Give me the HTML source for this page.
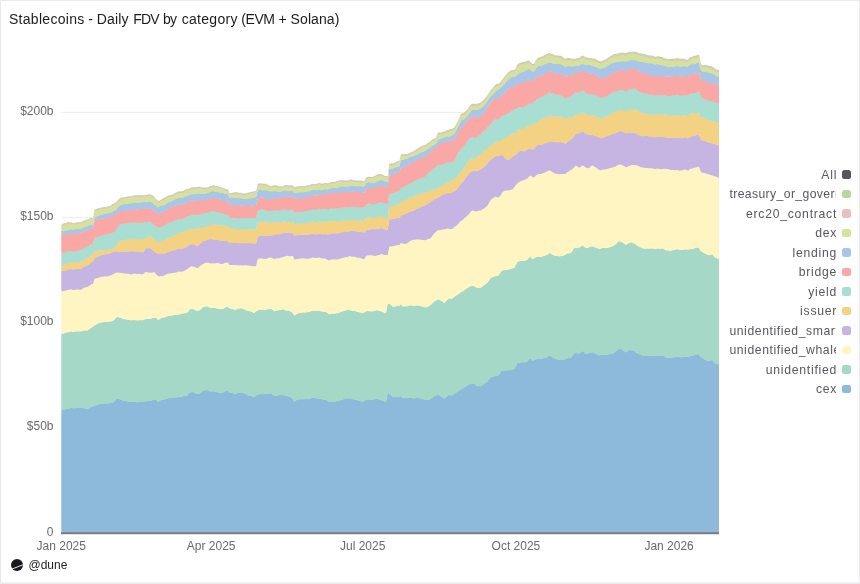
<!DOCTYPE html>
<html><head><meta charset="utf-8"><title>Stablecoins - Daily FDV by category (EVM + Solana)</title>
<style>
html,body{margin:0;padding:0;background:#fff;}
body{width:860px;height:584px;overflow:hidden;position:relative;font-family:"Liberation Sans",sans-serif;}
.frame{position:absolute;left:0;top:0;width:860px;height:584px;background:#fff;}
.title{position:absolute;left:9px;top:11px;width:340px;height:16px;font-size:14px;line-height:16px;color:#1c1c1f;white-space:nowrap;}
.title span{position:absolute;top:0;}
svg{position:absolute;left:0;top:0;}
svg text{font-family:"Liberation Sans",sans-serif;font-size:12px;fill:#6a6a6e;}
.legend{position:absolute;left:722px;top:164.8px;width:128.9px;}
.li{height:19.5px;display:flex;align-items:center;justify-content:flex-end;}
.lt{display:block;max-width:107px;overflow:hidden;white-space:nowrap;font-size:12.2px;letter-spacing:0.75px;color:#58585e;text-align:left;position:relative;top:0.4px;}
.lt.s{margin-right:-0.7px;}
.li i{display:block;width:8.7px;height:8.7px;border-radius:2.5px;margin-left:5.8px;flex:none;}
.foot{position:absolute;left:28.5px;top:558px;font-size:12px;line-height:14px;color:#1e1e22;}
</style></head><body>
<div class="frame"></div>
<div class="title"><span style="left:-0.10px;letter-spacing:0.301px">Stablecoins</span> <span style="left:79.20px;letter-spacing:0.000px">-</span> <span style="left:87.80px;letter-spacing:0.144px">Daily</span> <span style="left:124.30px;letter-spacing:-0.900px">FDV</span> <span style="left:153.90px;letter-spacing:-0.597px">by</span> <span style="left:172.70px;letter-spacing:0.300px">category</span> <span style="left:232.20px;letter-spacing:-0.400px">(EVM</span> <span style="left:269.40px;letter-spacing:0.000px">+</span> <span style="left:281.60px;letter-spacing:0.089px">Solana)</span> </div>
<svg width="860" height="584" viewBox="0 0 860 584">
<line x1="61" x2="719" y1="112.3" y2="112.3" stroke="#ececec" stroke-width="1"/><line x1="61" x2="719" y1="217.4" y2="217.4" stroke="#ececec" stroke-width="1"/><line x1="61" x2="719" y1="322.5" y2="322.5" stroke="#ececec" stroke-width="1"/><line x1="61" x2="719" y1="427.6" y2="427.6" stroke="#ececec" stroke-width="1"/>
<path d="M61.3,410.2 63.0,409.7 64.6,409.3 66.3,408.7 68.0,408.5 69.6,408.1 71.3,407.7 73.0,408.0 74.6,408.0 76.3,407.7 78.0,407.7 79.6,407.8 81.3,407.7 82.9,407.8 84.6,408.0 86.3,408.4 87.9,408.4 89.6,407.7 91.3,406.7 92.9,406.2 94.6,405.4 96.3,404.7 97.9,404.4 99.6,403.6 101.3,403.3 102.9,403.2 104.6,403.0 106.3,403.3 107.9,403.0 109.6,402.8 111.3,402.7 112.9,402.2 114.6,400.9 116.2,398.7 117.9,398.4 119.6,398.9 121.2,399.6 122.9,400.2 124.6,400.5 126.2,400.9 127.9,401.2 129.6,401.6 131.2,401.7 132.9,401.4 134.6,401.4 136.2,401.8 137.9,402.0 139.6,401.7 141.2,401.5 142.9,401.7 144.6,401.3 146.2,400.8 147.9,400.7 149.5,400.6 151.2,400.4 152.9,399.6 154.5,399.3 156.2,399.6 157.9,401.6 159.5,401.1 161.2,399.6 162.9,399.4 164.5,399.3 166.2,398.6 167.9,398.1 169.5,397.8 171.2,397.5 172.9,397.4 174.5,397.2 176.2,397.3 177.9,397.0 179.5,396.7 181.2,396.4 182.8,396.0 184.5,395.8 186.2,395.7 187.8,394.7 189.5,392.5 191.2,391.9 192.8,391.7 194.5,392.6 196.2,393.7 197.8,393.6 199.5,393.6 201.2,392.3 202.8,390.5 204.5,390.2 206.2,389.7 207.8,389.8 209.5,391.1 211.2,391.2 212.8,391.1 214.5,391.2 216.2,391.6 217.8,392.2 219.5,392.8 221.1,392.5 222.8,392.2 224.5,391.7 226.1,390.6 227.8,390.6 229.5,392.0 231.1,392.4 232.8,392.9 234.5,393.3 236.1,393.4 237.8,392.7 239.5,392.2 241.1,392.2 242.8,392.3 244.5,393.3 246.1,394.3 247.8,395.0 249.5,395.2 251.1,395.7 252.8,396.3 254.4,396.9 256.1,395.3 257.8,394.6 259.4,394.1 261.1,393.9 262.8,393.8 264.4,393.9 266.1,393.7 267.8,393.7 269.4,393.2 271.1,393.0 272.8,394.7 274.4,395.7 276.1,395.4 277.8,395.2 279.4,394.9 281.1,394.7 282.8,394.5 284.4,395.2 286.1,395.9 287.7,396.0 289.4,396.3 291.1,397.3 292.7,398.7 294.4,401.5 296.1,400.2 297.7,399.2 299.4,399.0 301.1,399.0 302.7,399.0 304.4,398.9 306.1,398.8 307.7,398.6 309.4,398.4 311.1,397.9 312.7,397.7 314.4,397.6 316.1,398.0 317.7,398.3 319.4,398.2 321.0,398.7 322.7,399.2 324.4,399.3 326.0,399.6 327.7,400.8 329.4,401.9 331.0,401.5 332.7,401.6 334.4,401.6 336.0,401.1 337.7,400.9 339.4,400.4 341.0,399.7 342.7,399.2 344.4,398.8 346.0,398.4 347.7,398.0 349.4,398.1 351.0,398.5 352.7,399.0 354.4,399.2 356.0,399.4 357.7,400.0 359.3,400.5 361.0,401.0 362.7,401.5 364.3,400.7 366.0,399.5 367.7,399.1 369.3,399.3 371.0,399.7 372.7,399.8 374.3,399.2 376.0,398.4 377.7,398.6 379.3,399.4 381.0,399.8 382.7,400.3 384.3,401.2 386.0,401.5 387.7,392.7 389.3,393.5 391.0,394.8 392.6,396.5 394.3,396.9 396.0,396.8 397.6,396.9 399.3,396.9 401.0,395.5 402.6,397.8 404.3,397.9 406.0,397.9 407.6,397.9 409.3,397.7 411.0,397.2 412.6,398.2 414.3,398.1 416.0,397.9 417.6,397.6 419.3,397.9 421.0,398.4 422.6,398.8 424.3,399.3 425.9,399.7 427.6,399.6 429.3,399.2 430.9,398.5 432.6,397.2 434.3,396.1 435.9,395.4 437.6,394.3 439.3,395.0 440.9,396.2 442.6,397.3 444.3,398.5 445.9,397.2 447.6,395.7 449.3,394.6 450.9,395.3 452.6,394.8 454.3,393.6 455.9,392.5 457.6,391.6 459.3,390.3 460.9,389.1 462.6,388.3 464.2,387.3 465.9,386.2 467.6,385.0 469.2,384.1 470.9,383.3 472.6,383.2 474.2,383.6 475.9,385.1 477.6,385.8 479.2,385.9 480.9,386.0 482.6,384.8 484.2,383.4 485.9,382.2 487.6,381.2 489.2,378.9 490.9,376.4 492.6,376.4 494.2,376.0 495.9,375.6 497.5,375.7 499.2,374.0 500.9,371.3 502.5,370.5 504.2,370.2 505.9,370.1 507.5,370.1 509.2,370.0 510.9,369.8 512.5,369.3 514.2,368.7 515.9,365.8 517.5,362.7 519.2,362.4 520.9,362.2 522.5,362.0 524.2,362.2 525.9,361.7 527.5,361.0 529.2,358.9 530.8,358.3 532.5,360.7 534.2,359.8 535.8,358.9 537.5,358.6 539.2,358.5 540.8,358.7 542.5,358.3 544.2,357.8 545.8,357.5 547.5,356.9 549.2,355.3 550.8,355.7 552.5,357.2 554.2,358.3 555.8,358.9 557.5,359.2 559.2,359.8 560.8,359.7 562.5,359.5 564.1,359.4 565.8,358.6 567.5,357.9 569.1,357.8 570.8,357.8 572.5,355.5 574.1,352.9 575.8,352.9 577.5,353.3 579.1,353.1 580.8,352.0 582.5,350.8 584.1,351.9 585.8,353.4 587.5,353.5 589.1,352.7 590.8,352.2 592.5,352.1 594.1,352.8 595.8,353.5 597.5,354.3 599.1,355.2 600.8,354.7 602.4,354.2 604.1,354.4 605.8,354.4 607.4,354.3 609.1,354.0 610.8,353.7 612.4,353.2 614.1,352.6 615.8,351.2 617.4,349.5 619.1,348.2 620.8,348.8 622.4,349.6 624.1,350.9 625.8,352.2 627.4,351.1 629.1,350.1 630.8,349.8 632.4,350.1 634.1,350.7 635.7,351.8 637.4,352.9 639.1,353.8 640.7,354.3 642.4,355.3 644.1,355.7 645.7,355.5 647.4,355.3 649.1,355.6 650.7,355.5 652.4,355.4 654.1,355.4 655.7,355.4 657.4,355.3 659.1,355.4 660.7,355.4 662.4,355.1 664.1,356.0 665.7,357.3 667.4,357.4 669.0,357.6 670.7,357.8 672.4,357.3 674.0,356.8 675.7,356.7 677.4,356.4 679.0,356.8 680.7,357.1 682.4,356.9 684.0,356.5 685.7,356.4 687.4,356.5 689.0,356.2 690.7,355.9 692.4,355.6 694.0,355.0 695.7,354.6 697.4,354.1 699.0,354.2 700.7,356.9 702.3,357.8 704.0,358.8 705.7,359.7 707.3,360.4 709.0,360.8 710.7,360.3 712.3,359.8 714.0,362.0 715.7,363.2 717.3,363.8 719.0,364.2 L719.0,532.7 L61.3,532.7Z" fill="#8db9da"/><path d="M61.3,334.1 63.0,333.4 64.6,332.9 66.3,332.2 68.0,332.0 69.6,331.6 71.3,331.1 73.0,331.5 74.6,331.3 76.3,331.1 78.0,331.0 79.6,331.1 81.3,331.0 82.9,330.5 84.6,330.1 86.3,330.3 87.9,330.0 89.6,328.7 91.3,327.4 92.9,326.4 94.6,325.0 96.3,324.0 97.9,323.2 99.6,322.5 101.3,322.0 102.9,321.9 104.6,321.7 106.3,321.8 107.9,321.6 109.6,321.3 111.3,321.1 112.9,320.6 114.6,319.3 116.2,317.1 117.9,316.8 119.6,317.2 121.2,317.8 122.9,318.5 124.6,318.8 126.2,319.2 127.9,319.4 129.6,319.7 131.2,320.0 132.9,319.8 134.6,319.6 136.2,320.0 137.9,320.2 139.6,319.9 141.2,319.8 142.9,319.8 144.6,319.2 146.2,318.8 147.9,318.7 149.5,318.6 151.2,318.4 152.9,317.6 154.5,317.5 156.2,317.7 157.9,319.4 159.5,319.0 161.2,317.7 162.9,317.4 164.5,317.1 166.2,316.3 167.9,315.8 169.5,315.6 171.2,315.3 172.9,315.0 174.5,314.7 176.2,314.7 177.9,314.4 179.5,314.1 181.2,313.7 182.8,313.2 184.5,312.8 186.2,312.7 187.8,311.8 189.5,309.6 191.2,308.7 192.8,308.5 194.5,309.3 196.2,310.4 197.8,310.3 199.5,310.1 201.2,308.9 202.8,306.9 204.5,306.5 206.2,306.0 207.8,306.1 209.5,307.4 211.2,307.5 212.8,307.4 214.5,307.6 216.2,307.9 217.8,308.4 219.5,308.9 221.1,308.8 222.8,308.5 224.5,307.8 226.1,306.6 227.8,306.7 229.5,308.2 231.1,308.3 232.8,308.9 234.5,309.3 236.1,309.3 237.8,308.6 239.5,308.1 241.1,308.1 242.8,308.4 244.5,309.2 246.1,310.0 247.8,310.6 249.5,310.8 251.1,311.3 252.8,312.2 254.4,312.7 256.1,310.8 257.8,310.1 259.4,309.7 261.1,309.4 262.8,309.3 264.4,309.6 266.1,309.2 267.8,309.0 269.4,308.6 271.1,308.4 272.8,309.9 274.4,310.8 276.1,310.4 277.8,310.1 279.4,309.8 281.1,309.4 282.8,309.0 284.4,309.6 286.1,310.3 287.7,310.3 289.4,310.6 291.1,311.5 292.7,312.7 294.4,315.4 296.1,314.0 297.7,313.0 299.4,312.8 301.1,312.4 302.7,312.2 304.4,312.2 306.1,312.1 307.7,311.8 309.4,311.5 311.1,310.8 312.7,310.6 314.4,310.3 316.1,310.6 317.7,310.7 319.4,310.6 321.0,311.1 322.7,311.4 324.4,311.3 326.0,311.5 327.7,312.9 329.4,314.0 331.0,313.4 332.7,313.4 334.4,313.4 336.0,313.2 337.7,312.9 339.4,312.4 341.0,311.6 342.7,311.1 344.4,310.6 346.0,310.1 347.7,309.7 349.4,309.8 351.0,310.2 352.7,310.5 354.4,310.7 356.0,311.0 357.7,311.7 359.3,312.0 361.0,312.4 362.7,312.9 364.3,312.1 366.0,311.1 367.7,310.7 369.3,310.8 371.0,311.1 372.7,311.2 374.3,310.7 376.0,310.0 377.7,310.0 379.3,310.7 381.0,311.1 382.7,311.6 384.3,312.5 386.0,312.7 387.7,303.2 389.3,303.5 391.0,304.7 392.6,306.3 394.3,306.3 396.0,306.0 397.6,305.7 399.3,305.4 401.0,303.9 402.6,306.2 404.3,306.1 406.0,306.0 407.6,305.9 409.3,305.4 411.0,304.9 412.6,305.8 414.3,305.7 416.0,305.4 417.6,305.1 419.3,305.3 421.0,305.9 422.6,306.3 424.3,306.8 425.9,307.0 427.6,306.5 429.3,305.6 430.9,304.6 432.6,302.8 434.3,301.2 435.9,300.3 437.6,299.0 439.3,299.4 440.9,300.4 442.6,301.3 444.3,302.6 445.9,301.0 447.6,299.3 449.3,298.0 450.9,298.5 452.6,298.0 454.3,296.6 455.9,295.4 457.6,294.4 459.3,293.2 460.9,292.0 462.6,291.2 464.2,290.1 465.9,288.7 467.6,287.5 469.2,286.6 470.9,285.8 472.6,285.5 474.2,285.8 475.9,287.1 477.6,287.6 479.2,287.6 480.9,287.6 482.6,286.1 484.2,284.7 485.9,283.5 487.6,282.2 489.2,279.8 490.9,277.2 492.6,277.1 494.2,276.3 495.9,275.7 497.5,275.8 499.2,274.2 500.9,271.3 502.5,270.2 504.2,269.8 505.9,269.6 507.5,269.4 509.2,269.1 510.9,268.7 512.5,268.1 514.2,267.6 515.9,264.7 517.5,261.5 519.2,261.1 520.9,260.7 522.5,260.5 524.2,260.6 525.9,260.1 527.5,259.4 529.2,257.2 530.8,256.5 532.5,259.0 534.2,257.9 535.8,256.8 537.5,256.3 539.2,256.4 540.8,256.7 542.5,256.2 544.2,255.4 545.8,255.0 547.5,254.4 549.2,252.8 550.8,253.0 552.5,254.3 554.2,255.2 555.8,255.6 557.5,255.7 559.2,256.1 560.8,255.8 562.5,255.4 564.1,255.2 565.8,254.2 567.5,253.1 569.1,253.0 570.8,252.7 572.5,250.3 574.1,247.6 575.8,247.5 577.5,247.8 579.1,247.4 580.8,246.2 582.5,245.2 584.1,246.4 585.8,247.7 587.5,247.8 589.1,246.8 590.8,246.2 592.5,246.1 594.1,246.8 595.8,247.2 597.5,247.9 599.1,248.7 600.8,248.3 602.4,247.7 604.1,247.6 605.8,247.7 607.4,247.5 609.1,247.1 610.8,246.5 612.4,245.8 614.1,245.2 615.8,243.8 617.4,242.1 619.1,240.8 620.8,241.4 622.4,242.1 624.1,243.4 625.8,244.7 627.4,243.7 629.1,242.6 630.8,242.1 632.4,242.6 634.1,243.0 635.7,244.1 637.4,245.3 639.1,246.4 640.7,247.1 642.4,247.9 644.1,248.4 645.7,248.4 647.4,248.2 649.1,248.4 650.7,248.2 652.4,248.2 654.1,248.5 655.7,248.4 657.4,248.2 659.1,248.3 660.7,248.4 662.4,248.0 664.1,248.8 665.7,250.1 667.4,250.1 669.0,250.3 670.7,250.5 672.4,250.1 674.0,249.4 675.7,249.2 677.4,248.8 679.0,249.3 680.7,249.6 682.4,249.5 684.0,249.2 685.7,249.0 687.4,249.3 689.0,249.1 690.7,248.8 692.4,248.6 694.0,248.2 695.7,247.7 697.4,247.2 699.0,247.5 700.7,250.6 702.3,251.7 704.0,252.7 705.7,253.7 707.3,254.3 709.0,254.8 710.7,254.5 712.3,254.0 714.0,256.3 715.7,257.5 717.3,258.0 719.0,258.3 L719.0,364.6 717.3,364.2 715.7,363.6 714.0,362.4 712.3,360.2 710.7,360.7 709.0,361.2 707.3,360.8 705.7,360.1 704.0,359.2 702.3,358.2 700.7,357.3 699.0,354.6 697.4,354.5 695.7,355.0 694.0,355.4 692.4,356.0 690.7,356.3 689.0,356.6 687.4,356.9 685.7,356.8 684.0,356.9 682.4,357.3 680.7,357.5 679.0,357.2 677.4,356.8 675.7,357.1 674.0,357.2 672.4,357.7 670.7,358.2 669.0,358.0 667.4,357.8 665.7,357.7 664.1,356.4 662.4,355.5 660.7,355.8 659.1,355.8 657.4,355.7 655.7,355.8 654.1,355.8 652.4,355.8 650.7,355.9 649.1,356.0 647.4,355.7 645.7,355.9 644.1,356.1 642.4,355.7 640.7,354.7 639.1,354.2 637.4,353.3 635.7,352.2 634.1,351.1 632.4,350.5 630.8,350.2 629.1,350.5 627.4,351.5 625.8,352.6 624.1,351.3 622.4,350.0 620.8,349.2 619.1,348.6 617.4,349.9 615.8,351.6 614.1,353.0 612.4,353.6 610.8,354.1 609.1,354.4 607.4,354.7 605.8,354.8 604.1,354.8 602.4,354.6 600.8,355.1 599.1,355.6 597.5,354.7 595.8,353.9 594.1,353.2 592.5,352.5 590.8,352.6 589.1,353.1 587.5,353.9 585.8,353.8 584.1,352.3 582.5,351.2 580.8,352.4 579.1,353.5 577.5,353.7 575.8,353.3 574.1,353.3 572.5,355.9 570.8,358.2 569.1,358.2 567.5,358.3 565.8,359.0 564.1,359.8 562.5,359.9 560.8,360.1 559.2,360.2 557.5,359.6 555.8,359.3 554.2,358.7 552.5,357.6 550.8,356.1 549.2,355.7 547.5,357.3 545.8,357.9 544.2,358.2 542.5,358.7 540.8,359.1 539.2,358.9 537.5,359.0 535.8,359.3 534.2,360.2 532.5,361.1 530.8,358.7 529.2,359.3 527.5,361.4 525.9,362.1 524.2,362.6 522.5,362.4 520.9,362.6 519.2,362.8 517.5,363.1 515.9,366.2 514.2,369.1 512.5,369.7 510.9,370.2 509.2,370.4 507.5,370.5 505.9,370.5 504.2,370.6 502.5,370.9 500.9,371.7 499.2,374.4 497.5,376.1 495.9,376.0 494.2,376.4 492.6,376.8 490.9,376.8 489.2,379.3 487.6,381.6 485.9,382.6 484.2,383.8 482.6,385.2 480.9,386.4 479.2,386.3 477.6,386.2 475.9,385.5 474.2,384.0 472.6,383.6 470.9,383.7 469.2,384.5 467.6,385.4 465.9,386.6 464.2,387.7 462.6,388.7 460.9,389.5 459.3,390.7 457.6,392.0 455.9,392.9 454.3,394.0 452.6,395.2 450.9,395.7 449.3,395.0 447.6,396.1 445.9,397.6 444.3,398.9 442.6,397.7 440.9,396.6 439.3,395.4 437.6,394.7 435.9,395.8 434.3,396.5 432.6,397.6 430.9,398.9 429.3,399.6 427.6,400.0 425.9,400.1 424.3,399.7 422.6,399.2 421.0,398.8 419.3,398.3 417.6,398.0 416.0,398.3 414.3,398.5 412.6,398.6 411.0,397.6 409.3,398.1 407.6,398.3 406.0,398.3 404.3,398.3 402.6,398.2 401.0,395.9 399.3,397.3 397.6,397.3 396.0,397.2 394.3,397.3 392.6,396.9 391.0,395.2 389.3,393.9 387.7,393.1 386.0,401.9 384.3,401.6 382.7,400.7 381.0,400.2 379.3,399.8 377.7,399.0 376.0,398.8 374.3,399.6 372.7,400.2 371.0,400.1 369.3,399.7 367.7,399.5 366.0,399.9 364.3,401.1 362.7,401.9 361.0,401.4 359.3,400.9 357.7,400.4 356.0,399.8 354.4,399.6 352.7,399.4 351.0,398.9 349.4,398.5 347.7,398.4 346.0,398.8 344.4,399.2 342.7,399.6 341.0,400.1 339.4,400.8 337.7,401.3 336.0,401.5 334.4,402.0 332.7,402.0 331.0,401.9 329.4,402.3 327.7,401.2 326.0,400.0 324.4,399.7 322.7,399.6 321.0,399.1 319.4,398.6 317.7,398.7 316.1,398.4 314.4,398.0 312.7,398.1 311.1,398.3 309.4,398.8 307.7,399.0 306.1,399.2 304.4,399.3 302.7,399.4 301.1,399.4 299.4,399.4 297.7,399.6 296.1,400.6 294.4,401.9 292.7,399.1 291.1,397.7 289.4,396.7 287.7,396.4 286.1,396.3 284.4,395.6 282.8,394.9 281.1,395.1 279.4,395.3 277.8,395.6 276.1,395.8 274.4,396.1 272.8,395.1 271.1,393.4 269.4,393.6 267.8,394.1 266.1,394.1 264.4,394.3 262.8,394.2 261.1,394.3 259.4,394.5 257.8,395.0 256.1,395.7 254.4,397.3 252.8,396.7 251.1,396.1 249.5,395.6 247.8,395.4 246.1,394.7 244.5,393.7 242.8,392.7 241.1,392.6 239.5,392.6 237.8,393.1 236.1,393.8 234.5,393.7 232.8,393.3 231.1,392.8 229.5,392.4 227.8,391.0 226.1,391.0 224.5,392.1 222.8,392.6 221.1,392.9 219.5,393.2 217.8,392.6 216.2,392.0 214.5,391.6 212.8,391.5 211.2,391.6 209.5,391.5 207.8,390.2 206.2,390.1 204.5,390.6 202.8,390.9 201.2,392.7 199.5,394.0 197.8,394.0 196.2,394.1 194.5,393.0 192.8,392.1 191.2,392.3 189.5,392.9 187.8,395.1 186.2,396.1 184.5,396.2 182.8,396.4 181.2,396.8 179.5,397.1 177.9,397.4 176.2,397.7 174.5,397.6 172.9,397.8 171.2,397.9 169.5,398.2 167.9,398.5 166.2,399.0 164.5,399.7 162.9,399.8 161.2,400.0 159.5,401.5 157.9,402.0 156.2,400.0 154.5,399.7 152.9,400.0 151.2,400.8 149.5,401.0 147.9,401.1 146.2,401.2 144.6,401.7 142.9,402.1 141.2,401.9 139.6,402.1 137.9,402.4 136.2,402.2 134.6,401.8 132.9,401.8 131.2,402.1 129.6,402.0 127.9,401.6 126.2,401.3 124.6,400.9 122.9,400.6 121.2,400.0 119.6,399.3 117.9,398.8 116.2,399.1 114.6,401.3 112.9,402.6 111.3,403.1 109.6,403.2 107.9,403.4 106.3,403.7 104.6,403.4 102.9,403.6 101.3,403.7 99.6,404.0 97.9,404.8 96.3,405.1 94.6,405.8 92.9,406.6 91.3,407.1 89.6,408.1 87.9,408.8 86.3,408.8 84.6,408.4 82.9,408.2 81.3,408.1 79.6,408.2 78.0,408.1 76.3,408.1 74.6,408.4 73.0,408.4 71.3,408.1 69.6,408.5 68.0,408.9 66.3,409.1 64.6,409.7 63.0,410.1 61.3,410.6Z" fill="#a5d8c6"/><path d="M61.3,291.0 63.0,290.7 64.6,290.5 66.3,289.9 68.0,289.5 69.6,289.2 71.3,289.2 73.0,289.7 74.6,289.5 76.3,289.2 78.0,289.1 79.6,289.4 81.3,289.3 82.9,288.2 84.6,287.2 86.3,286.9 87.9,286.3 89.6,285.0 91.3,283.8 92.9,283.6 94.6,278.4 96.3,278.0 97.9,277.7 99.6,277.0 101.3,276.4 102.9,276.3 104.6,275.8 106.3,276.1 107.9,275.8 109.6,275.4 111.3,274.9 112.9,273.9 114.6,273.1 116.2,272.2 117.9,272.3 119.6,272.4 121.2,272.5 122.9,272.9 124.6,273.0 126.2,273.4 127.9,273.3 129.6,273.7 131.2,274.2 132.9,273.7 134.6,273.2 136.2,273.6 137.9,273.6 139.6,273.5 141.2,273.8 142.9,273.9 144.6,272.3 146.2,271.3 147.9,272.1 149.5,272.4 151.2,272.3 152.9,272.0 154.5,271.8 156.2,273.9 157.9,275.7 159.5,275.8 161.2,275.7 162.9,275.9 164.5,274.9 166.2,274.2 167.9,273.3 169.5,273.0 171.2,272.9 172.9,272.7 174.5,272.3 176.2,272.0 177.9,271.4 179.5,271.2 181.2,271.4 182.8,271.0 184.5,270.3 186.2,269.3 187.8,268.3 189.5,266.8 191.2,265.9 192.8,266.1 194.5,266.6 196.2,267.3 197.8,267.5 199.5,266.0 201.2,264.9 202.8,263.5 204.5,262.9 206.2,262.4 207.8,262.4 209.5,262.9 211.2,263.1 212.8,262.8 214.5,263.0 216.2,262.7 217.8,262.7 219.5,263.2 221.1,263.6 222.8,263.5 224.5,262.7 226.1,262.3 227.8,262.0 229.5,264.6 231.1,264.7 232.8,264.7 234.5,264.5 236.1,264.6 237.8,264.8 239.5,265.0 241.1,264.9 242.8,265.0 244.5,264.9 246.1,264.9 247.8,265.2 249.5,265.4 251.1,265.6 252.8,265.9 254.4,265.9 256.1,265.7 257.8,258.3 259.4,258.0 261.1,258.0 262.8,258.4 264.4,258.5 266.1,258.6 267.8,257.9 269.4,257.2 271.1,257.2 272.8,258.2 274.4,258.7 276.1,258.2 277.8,258.1 279.4,257.9 281.1,257.4 282.8,256.6 284.4,256.0 286.1,255.7 287.7,255.4 289.4,255.8 291.1,255.9 292.7,255.4 294.4,259.2 296.1,258.8 297.7,258.5 299.4,258.4 301.1,258.0 302.7,257.9 304.4,258.2 306.1,258.3 307.7,258.3 309.4,258.1 311.1,257.5 312.7,257.2 314.4,257.4 316.1,257.6 317.7,257.3 319.4,257.1 321.0,257.9 322.7,258.2 324.4,258.2 326.0,258.7 327.7,259.5 329.4,260.0 331.0,259.1 332.7,259.2 334.4,259.1 336.0,259.1 337.7,258.9 339.4,258.5 341.0,257.9 342.7,257.5 344.4,257.0 346.0,256.8 347.7,256.5 349.4,255.7 351.0,256.0 352.7,256.3 354.4,256.4 356.0,256.8 357.7,257.3 359.3,257.4 361.0,257.8 362.7,258.5 364.3,258.8 366.0,255.5 367.7,254.9 369.3,254.8 371.0,254.9 372.7,255.2 374.3,255.6 376.0,255.3 377.7,254.8 379.3,254.5 381.0,253.8 382.7,253.9 384.3,254.6 386.0,254.7 387.7,254.9 389.3,246.1 391.0,246.0 392.6,245.9 394.3,245.7 396.0,245.0 397.6,244.7 399.3,244.9 401.0,242.6 402.6,243.1 404.3,243.3 406.0,243.5 407.6,242.5 409.3,241.0 411.0,240.1 412.6,239.6 414.3,239.3 416.0,239.1 417.6,238.9 419.3,239.0 421.0,239.3 422.6,239.7 424.3,239.9 425.9,239.5 427.6,238.8 429.3,238.4 430.9,237.7 432.6,235.2 434.3,233.1 435.9,231.6 437.6,230.0 439.3,229.7 440.9,229.6 442.6,229.0 444.3,228.8 445.9,228.6 447.6,228.2 449.3,228.5 450.9,228.8 452.6,228.3 454.3,226.6 455.9,225.5 457.6,224.0 459.3,222.4 460.9,220.7 462.6,219.7 464.2,218.1 465.9,216.6 467.6,215.2 469.2,213.7 470.9,211.1 472.6,210.0 474.2,210.5 475.9,211.0 477.6,210.5 479.2,210.2 480.9,210.1 482.6,208.8 484.2,208.0 485.9,206.7 487.6,205.1 489.2,202.1 490.9,199.0 492.6,198.3 494.2,196.8 495.9,196.0 497.5,197.1 499.2,196.8 500.9,194.3 502.5,191.9 504.2,190.7 505.9,190.0 507.5,190.2 509.2,189.9 510.9,189.4 512.5,189.1 514.2,186.9 515.9,184.9 517.5,182.6 519.2,181.5 520.9,180.8 522.5,180.0 524.2,179.7 525.9,178.9 527.5,178.2 529.2,176.0 530.8,175.2 532.5,176.8 534.2,176.9 535.8,175.4 537.5,173.8 539.2,173.6 540.8,173.7 542.5,173.2 544.2,172.3 545.8,171.7 547.5,170.9 549.2,170.2 550.8,170.6 552.5,171.8 554.2,172.7 555.8,173.4 557.5,173.6 559.2,173.8 560.8,173.7 562.5,173.6 564.1,173.7 565.8,173.3 567.5,171.6 569.1,170.8 570.8,169.7 572.5,168.8 574.1,166.9 575.8,165.1 577.5,166.1 579.1,167.3 580.8,166.4 582.5,165.2 584.1,165.9 585.8,167.2 587.5,167.9 589.1,167.6 590.8,165.9 592.5,165.0 594.1,166.2 595.8,167.0 597.5,168.3 599.1,169.7 600.8,169.8 602.4,169.4 604.1,169.1 605.8,168.8 607.4,168.5 609.1,167.9 610.8,167.5 612.4,167.1 614.1,166.6 615.8,166.1 617.4,165.2 619.1,164.2 620.8,164.4 622.4,164.8 624.1,165.9 625.8,166.9 627.4,166.3 629.1,165.3 630.8,164.8 632.4,164.6 634.1,164.7 635.7,164.9 637.4,165.2 639.1,166.0 640.7,166.5 642.4,167.0 644.1,167.3 645.7,167.6 647.4,167.6 649.1,167.9 650.7,167.9 652.4,167.8 654.1,168.5 655.7,168.6 657.4,168.2 659.1,168.5 660.7,168.9 662.4,168.6 664.1,168.3 665.7,168.5 667.4,168.7 669.0,169.1 670.7,169.5 672.4,169.7 674.0,169.6 675.7,169.8 677.4,169.7 679.0,170.3 680.7,170.2 682.4,169.8 684.0,169.0 685.7,169.3 687.4,170.2 689.0,169.5 690.7,168.3 692.4,168.0 694.0,167.4 695.7,167.2 697.4,166.5 699.0,166.1 700.7,171.3 702.3,172.3 704.0,172.6 705.7,172.9 707.3,173.7 709.0,174.2 710.7,174.6 712.3,175.1 714.0,175.5 715.7,176.0 717.3,176.8 719.0,177.2 L719.0,258.7 717.3,258.4 715.7,257.9 714.0,256.7 712.3,254.4 710.7,254.9 709.0,255.2 707.3,254.7 705.7,254.1 704.0,253.1 702.3,252.1 700.7,251.0 699.0,247.9 697.4,247.6 695.7,248.1 694.0,248.6 692.4,249.0 690.7,249.2 689.0,249.5 687.4,249.7 685.7,249.4 684.0,249.6 682.4,249.9 680.7,250.0 679.0,249.7 677.4,249.2 675.7,249.6 674.0,249.8 672.4,250.5 670.7,250.9 669.0,250.7 667.4,250.5 665.7,250.5 664.1,249.2 662.4,248.4 660.7,248.8 659.1,248.7 657.4,248.6 655.7,248.8 654.1,248.9 652.4,248.6 650.7,248.6 649.1,248.8 647.4,248.6 645.7,248.8 644.1,248.8 642.4,248.3 640.7,247.5 639.1,246.8 637.4,245.7 635.7,244.5 634.1,243.4 632.4,243.0 630.8,242.5 629.1,243.0 627.4,244.1 625.8,245.1 624.1,243.8 622.4,242.5 620.8,241.8 619.1,241.2 617.4,242.5 615.8,244.2 614.1,245.6 612.4,246.2 610.8,246.9 609.1,247.5 607.4,247.9 605.8,248.1 604.1,248.0 602.4,248.1 600.8,248.7 599.1,249.1 597.5,248.3 595.8,247.6 594.1,247.2 592.5,246.5 590.8,246.6 589.1,247.2 587.5,248.2 585.8,248.1 584.1,246.8 582.5,245.6 580.8,246.6 579.1,247.8 577.5,248.2 575.8,247.9 574.1,248.0 572.5,250.7 570.8,253.1 569.1,253.4 567.5,253.5 565.8,254.6 564.1,255.6 562.5,255.8 560.8,256.2 559.2,256.5 557.5,256.1 555.8,256.0 554.2,255.6 552.5,254.7 550.8,253.4 549.2,253.2 547.5,254.8 545.8,255.4 544.2,255.8 542.5,256.6 540.8,257.1 539.2,256.8 537.5,256.7 535.8,257.2 534.2,258.3 532.5,259.4 530.8,256.9 529.2,257.6 527.5,259.8 525.9,260.5 524.2,261.0 522.5,260.9 520.9,261.1 519.2,261.5 517.5,261.9 515.9,265.1 514.2,268.0 512.5,268.5 510.9,269.1 509.2,269.5 507.5,269.8 505.9,270.0 504.2,270.2 502.5,270.6 500.9,271.7 499.2,274.6 497.5,276.2 495.9,276.1 494.2,276.7 492.6,277.5 490.9,277.6 489.2,280.2 487.6,282.6 485.9,283.9 484.2,285.1 482.6,286.5 480.9,288.0 479.2,288.0 477.6,288.0 475.9,287.5 474.2,286.2 472.6,285.9 470.9,286.2 469.2,287.0 467.6,287.9 465.9,289.1 464.2,290.5 462.6,291.6 460.9,292.4 459.3,293.6 457.6,294.8 455.9,295.8 454.3,297.0 452.6,298.4 450.9,298.9 449.3,298.4 447.6,299.7 445.9,301.4 444.3,303.0 442.6,301.7 440.9,300.8 439.3,299.8 437.6,299.4 435.9,300.7 434.3,301.6 432.6,303.2 430.9,305.0 429.3,306.0 427.6,306.9 425.9,307.4 424.3,307.2 422.6,306.7 421.0,306.3 419.3,305.7 417.6,305.5 416.0,305.8 414.3,306.1 412.6,306.2 411.0,305.3 409.3,305.8 407.6,306.3 406.0,306.4 404.3,306.5 402.6,306.6 401.0,304.3 399.3,305.8 397.6,306.1 396.0,306.4 394.3,306.7 392.6,306.7 391.0,305.1 389.3,303.9 387.7,303.6 386.0,313.1 384.3,312.9 382.7,312.0 381.0,311.5 379.3,311.1 377.7,310.4 376.0,310.4 374.3,311.1 372.7,311.6 371.0,311.5 369.3,311.2 367.7,311.1 366.0,311.5 364.3,312.5 362.7,313.3 361.0,312.8 359.3,312.4 357.7,312.1 356.0,311.4 354.4,311.1 352.7,310.9 351.0,310.6 349.4,310.2 347.7,310.1 346.0,310.5 344.4,311.0 342.7,311.5 341.0,312.0 339.4,312.8 337.7,313.3 336.0,313.6 334.4,313.8 332.7,313.8 331.0,313.8 329.4,314.4 327.7,313.3 326.0,311.9 324.4,311.7 322.7,311.8 321.0,311.5 319.4,311.0 317.7,311.1 316.1,311.0 314.4,310.7 312.7,311.0 311.1,311.2 309.4,311.9 307.7,312.2 306.1,312.5 304.4,312.6 302.7,312.6 301.1,312.8 299.4,313.2 297.7,313.4 296.1,314.4 294.4,315.8 292.7,313.1 291.1,311.9 289.4,311.0 287.7,310.7 286.1,310.7 284.4,310.0 282.8,309.4 281.1,309.8 279.4,310.2 277.8,310.5 276.1,310.8 274.4,311.2 272.8,310.3 271.1,308.8 269.4,309.0 267.8,309.4 266.1,309.6 264.4,310.0 262.8,309.7 261.1,309.8 259.4,310.1 257.8,310.5 256.1,311.2 254.4,313.1 252.8,312.6 251.1,311.7 249.5,311.2 247.8,311.0 246.1,310.4 244.5,309.6 242.8,308.8 241.1,308.5 239.5,308.5 237.8,309.0 236.1,309.7 234.5,309.7 232.8,309.3 231.1,308.7 229.5,308.6 227.8,307.1 226.1,307.0 224.5,308.2 222.8,308.9 221.1,309.2 219.5,309.3 217.8,308.8 216.2,308.3 214.5,308.0 212.8,307.8 211.2,307.9 209.5,307.8 207.8,306.5 206.2,306.4 204.5,306.9 202.8,307.3 201.2,309.3 199.5,310.5 197.8,310.7 196.2,310.8 194.5,309.7 192.8,308.9 191.2,309.1 189.5,310.0 187.8,312.2 186.2,313.1 184.5,313.2 182.8,313.6 181.2,314.1 179.5,314.5 177.9,314.8 176.2,315.1 174.5,315.1 172.9,315.4 171.2,315.7 169.5,316.0 167.9,316.2 166.2,316.7 164.5,317.5 162.9,317.8 161.2,318.1 159.5,319.4 157.9,319.8 156.2,318.1 154.5,317.9 152.9,318.0 151.2,318.8 149.5,319.0 147.9,319.1 146.2,319.2 144.6,319.6 142.9,320.2 141.2,320.2 139.6,320.3 137.9,320.6 136.2,320.4 134.6,320.0 132.9,320.2 131.2,320.4 129.6,320.1 127.9,319.8 126.2,319.6 124.6,319.2 122.9,318.9 121.2,318.2 119.6,317.6 117.9,317.2 116.2,317.5 114.6,319.7 112.9,321.0 111.3,321.5 109.6,321.7 107.9,322.0 106.3,322.2 104.6,322.1 102.9,322.3 101.3,322.4 99.6,322.9 97.9,323.6 96.3,324.4 94.6,325.4 92.9,326.8 91.3,327.8 89.6,329.1 87.9,330.4 86.3,330.7 84.6,330.5 82.9,330.9 81.3,331.4 79.6,331.5 78.0,331.4 76.3,331.5 74.6,331.7 73.0,331.9 71.3,331.5 69.6,332.0 68.0,332.4 66.3,332.6 64.6,333.3 63.0,333.8 61.3,334.5Z" fill="#fff5c2"/><path d="M61.3,270.9 63.0,270.5 64.6,270.4 66.3,269.9 68.0,269.5 69.6,268.9 71.3,268.8 73.0,269.2 74.6,269.0 76.3,268.6 78.0,268.4 79.6,268.5 81.3,268.3 82.9,267.2 84.6,266.2 86.3,265.6 87.9,264.9 89.6,263.5 91.3,262.1 92.9,261.7 94.6,257.6 96.3,257.1 97.9,256.5 99.6,255.6 101.3,254.9 102.9,254.7 104.6,254.1 106.3,254.1 107.9,253.6 109.6,253.2 111.3,252.6 112.9,251.6 114.6,251.1 116.2,251.0 117.9,251.3 119.6,251.5 121.2,251.7 122.9,251.7 124.6,251.4 126.2,251.5 127.9,251.2 129.6,251.1 131.2,251.1 132.9,251.1 134.6,250.9 136.2,251.5 137.9,251.6 139.6,251.6 141.2,251.9 142.9,252.1 144.6,250.1 146.2,247.8 147.9,248.0 149.5,247.7 151.2,248.6 152.9,250.0 154.5,251.3 156.2,252.7 157.9,253.6 159.5,253.5 161.2,253.3 162.9,253.6 164.5,253.5 166.2,252.6 167.9,251.7 169.5,251.2 171.2,250.8 172.9,250.2 174.5,249.8 176.2,249.3 177.9,248.8 179.5,248.6 181.2,248.7 182.8,248.3 184.5,247.7 186.2,246.7 187.8,245.9 189.5,244.7 191.2,243.8 192.8,244.0 194.5,244.6 196.2,245.4 197.8,245.4 199.5,243.9 201.2,242.6 202.8,241.0 204.5,240.5 206.2,239.9 207.8,239.4 209.5,238.9 211.2,238.9 212.8,239.0 214.5,239.5 216.2,239.7 217.8,239.6 219.5,240.1 221.1,240.4 222.8,240.4 224.5,240.5 226.1,240.7 227.8,240.9 229.5,242.8 231.1,242.6 232.8,242.5 234.5,242.6 236.1,242.6 237.8,242.7 239.5,243.0 241.1,242.9 242.8,242.9 244.5,242.8 246.1,242.7 247.8,242.9 249.5,243.0 251.1,243.1 252.8,243.3 254.4,243.3 256.1,243.2 257.8,236.4 259.4,235.8 261.1,235.6 262.8,235.7 264.4,235.8 266.1,235.5 267.8,235.2 269.4,235.3 271.1,235.3 272.8,235.1 274.4,234.4 276.1,234.1 277.8,234.0 279.4,234.0 281.1,233.5 282.8,232.8 284.4,232.4 286.1,232.5 287.7,232.4 289.4,232.7 291.1,232.7 292.7,232.2 294.4,235.4 296.1,235.0 297.7,234.8 299.4,234.7 301.1,234.4 302.7,234.4 304.4,234.5 306.1,234.4 307.7,234.2 309.4,234.2 311.1,233.8 312.7,233.5 314.4,233.8 316.1,234.2 317.7,234.0 319.4,233.4 321.0,233.9 322.7,234.1 324.4,233.8 326.0,233.9 327.7,234.2 329.4,233.9 331.0,233.1 332.7,233.2 334.4,233.1 336.0,233.2 337.7,233.2 339.4,232.7 341.0,232.1 342.7,231.9 344.4,231.8 346.0,231.6 347.7,231.6 349.4,231.0 351.0,230.7 352.7,230.6 354.4,230.7 356.0,231.0 357.7,231.4 359.3,231.3 361.0,231.6 362.7,232.1 364.3,232.4 366.0,230.0 367.7,229.4 369.3,229.2 371.0,229.2 372.7,228.7 374.3,229.2 376.0,228.9 377.7,228.5 379.3,228.4 381.0,227.8 382.7,228.2 384.3,229.1 386.0,229.4 387.7,229.8 389.3,219.0 391.0,219.0 392.6,218.7 394.3,218.4 396.0,217.8 397.6,217.5 399.3,217.9 401.0,215.0 402.6,214.8 404.3,214.0 406.0,213.3 407.6,212.8 409.3,211.6 411.0,211.2 412.6,210.8 414.3,209.8 416.0,208.9 417.6,208.2 419.3,207.6 421.0,206.7 422.6,206.0 424.3,205.5 425.9,204.7 427.6,203.4 429.3,202.5 430.9,201.5 432.6,200.1 434.3,199.1 435.9,198.5 437.6,197.3 439.3,196.5 440.9,195.8 442.6,194.3 444.3,193.8 445.9,193.3 447.6,192.9 449.3,192.8 450.9,192.5 452.6,191.9 454.3,190.9 455.9,190.3 457.6,188.0 459.3,185.7 460.9,183.6 462.6,181.9 464.2,179.6 465.9,177.2 467.6,174.9 469.2,173.1 470.9,171.3 472.6,170.9 474.2,170.5 475.9,170.7 477.6,170.9 479.2,169.9 480.9,168.9 482.6,167.7 484.2,166.9 485.9,165.0 487.6,163.0 489.2,161.0 490.9,158.9 492.6,158.4 494.2,157.1 495.9,155.9 497.5,155.7 499.2,155.6 500.9,155.0 502.5,154.8 504.2,156.5 505.9,158.7 507.5,159.7 509.2,159.3 510.9,157.8 512.5,156.6 514.2,155.3 515.9,154.4 517.5,152.8 519.2,151.1 520.9,150.6 522.5,150.8 524.2,151.2 525.9,150.3 527.5,149.2 529.2,147.9 530.8,148.7 532.5,149.9 534.2,148.2 535.8,146.4 537.5,144.8 539.2,144.7 540.8,144.7 542.5,144.3 544.2,143.3 545.8,142.8 547.5,142.0 549.2,141.3 550.8,141.3 552.5,141.5 554.2,141.6 555.8,142.1 557.5,142.0 559.2,141.9 560.8,141.9 562.5,142.4 564.1,143.1 565.8,143.3 567.5,141.4 569.1,140.3 570.8,139.0 572.5,137.9 574.1,135.7 575.8,133.4 577.5,133.3 579.1,132.9 580.8,132.0 582.5,131.5 584.1,131.7 585.8,133.4 587.5,134.3 589.1,134.8 590.8,134.4 592.5,134.5 594.1,135.5 595.8,135.7 597.5,136.3 599.1,137.3 600.8,137.8 602.4,137.4 604.1,136.9 605.8,136.2 607.4,135.8 609.1,135.1 610.8,134.4 612.4,133.9 614.1,133.5 615.8,133.0 617.4,132.1 619.1,131.1 620.8,130.8 622.4,131.2 624.1,132.1 625.8,133.0 627.4,132.8 629.1,132.3 630.8,132.3 632.4,132.5 634.1,132.4 635.7,133.1 637.4,133.8 639.1,134.9 640.7,135.6 642.4,136.0 644.1,135.8 645.7,135.7 647.4,135.6 649.1,136.2 650.7,136.3 652.4,136.3 654.1,137.1 655.7,137.0 657.4,136.5 659.1,136.7 660.7,136.7 662.4,136.7 664.1,136.8 665.7,137.1 667.4,137.4 669.0,137.5 670.7,137.7 672.4,137.6 674.0,137.5 675.7,137.5 677.4,137.2 679.0,137.8 680.7,137.9 682.4,137.8 684.0,137.0 685.7,137.2 687.4,138.3 689.0,137.5 690.7,136.3 692.4,136.0 694.0,135.3 695.7,135.2 697.4,134.6 699.0,134.1 700.7,139.3 702.3,140.1 704.0,140.4 705.7,140.7 707.3,141.8 709.0,142.5 710.7,142.7 712.3,143.1 714.0,143.5 715.7,144.1 717.3,144.8 719.0,145.1 L719.0,177.6 717.3,177.2 715.7,176.4 714.0,175.9 712.3,175.5 710.7,175.0 709.0,174.6 707.3,174.1 705.7,173.3 704.0,173.0 702.3,172.7 700.7,171.7 699.0,166.5 697.4,166.9 695.7,167.6 694.0,167.8 692.4,168.4 690.7,168.7 689.0,169.9 687.4,170.6 685.7,169.7 684.0,169.4 682.4,170.2 680.7,170.6 679.0,170.7 677.4,170.1 675.7,170.2 674.0,170.0 672.4,170.1 670.7,169.9 669.0,169.5 667.4,169.1 665.7,168.9 664.1,168.7 662.4,169.0 660.7,169.3 659.1,168.9 657.4,168.6 655.7,169.0 654.1,168.9 652.4,168.2 650.7,168.3 649.1,168.3 647.4,168.0 645.7,168.0 644.1,167.7 642.4,167.4 640.7,166.9 639.1,166.4 637.4,165.6 635.7,165.3 634.1,165.1 632.4,165.0 630.8,165.2 629.1,165.7 627.4,166.7 625.8,167.3 624.1,166.3 622.4,165.2 620.8,164.8 619.1,164.6 617.4,165.6 615.8,166.5 614.1,167.0 612.4,167.5 610.8,167.9 609.1,168.3 607.4,168.9 605.8,169.2 604.1,169.5 602.4,169.8 600.8,170.2 599.1,170.1 597.5,168.7 595.8,167.4 594.1,166.6 592.5,165.4 590.8,166.3 589.1,168.0 587.5,168.3 585.8,167.6 584.1,166.3 582.5,165.6 580.8,166.8 579.1,167.7 577.5,166.5 575.8,165.5 574.1,167.3 572.5,169.2 570.8,170.1 569.1,171.2 567.5,172.0 565.8,173.7 564.1,174.1 562.5,174.0 560.8,174.1 559.2,174.2 557.5,174.0 555.8,173.8 554.2,173.1 552.5,172.2 550.8,171.0 549.2,170.6 547.5,171.3 545.8,172.1 544.2,172.7 542.5,173.6 540.8,174.1 539.2,174.0 537.5,174.2 535.8,175.8 534.2,177.3 532.5,177.2 530.8,175.6 529.2,176.4 527.5,178.6 525.9,179.3 524.2,180.1 522.5,180.4 520.9,181.2 519.2,181.9 517.5,183.0 515.9,185.3 514.2,187.3 512.5,189.5 510.9,189.8 509.2,190.3 507.5,190.6 505.9,190.4 504.2,191.1 502.5,192.3 500.9,194.7 499.2,197.2 497.5,197.5 495.9,196.4 494.2,197.2 492.6,198.7 490.9,199.4 489.2,202.5 487.6,205.5 485.9,207.1 484.2,208.4 482.6,209.2 480.9,210.5 479.2,210.6 477.6,210.9 475.9,211.4 474.2,210.9 472.6,210.4 470.9,211.5 469.2,214.1 467.6,215.6 465.9,217.0 464.2,218.5 462.6,220.1 460.9,221.1 459.3,222.8 457.6,224.4 455.9,225.9 454.3,227.0 452.6,228.7 450.9,229.2 449.3,228.9 447.6,228.6 445.9,229.0 444.3,229.2 442.6,229.4 440.9,230.0 439.3,230.1 437.6,230.4 435.9,232.0 434.3,233.5 432.6,235.6 430.9,238.1 429.3,238.8 427.6,239.2 425.9,239.9 424.3,240.3 422.6,240.1 421.0,239.7 419.3,239.4 417.6,239.3 416.0,239.5 414.3,239.7 412.6,240.0 411.0,240.5 409.3,241.4 407.6,242.9 406.0,243.9 404.3,243.7 402.6,243.5 401.0,243.0 399.3,245.3 397.6,245.1 396.0,245.4 394.3,246.1 392.6,246.3 391.0,246.4 389.3,246.5 387.7,255.3 386.0,255.1 384.3,255.0 382.7,254.3 381.0,254.2 379.3,254.9 377.7,255.2 376.0,255.7 374.3,256.0 372.7,255.6 371.0,255.3 369.3,255.2 367.7,255.3 366.0,255.9 364.3,259.2 362.7,258.9 361.0,258.2 359.3,257.8 357.7,257.7 356.0,257.2 354.4,256.8 352.7,256.7 351.0,256.4 349.4,256.1 347.7,256.9 346.0,257.2 344.4,257.4 342.7,257.9 341.0,258.3 339.4,258.9 337.7,259.3 336.0,259.5 334.4,259.5 332.7,259.6 331.0,259.5 329.4,260.4 327.7,259.9 326.0,259.1 324.4,258.6 322.7,258.6 321.0,258.3 319.4,257.5 317.7,257.7 316.1,258.0 314.4,257.8 312.7,257.6 311.1,257.9 309.4,258.5 307.7,258.7 306.1,258.7 304.4,258.6 302.7,258.3 301.1,258.4 299.4,258.8 297.7,258.9 296.1,259.2 294.4,259.6 292.7,255.8 291.1,256.3 289.4,256.2 287.7,255.8 286.1,256.1 284.4,256.4 282.8,257.0 281.1,257.8 279.4,258.3 277.8,258.5 276.1,258.6 274.4,259.1 272.8,258.6 271.1,257.6 269.4,257.6 267.8,258.3 266.1,259.0 264.4,258.9 262.8,258.8 261.1,258.4 259.4,258.4 257.8,258.7 256.1,266.1 254.4,266.3 252.8,266.3 251.1,266.0 249.5,265.8 247.8,265.6 246.1,265.3 244.5,265.3 242.8,265.4 241.1,265.3 239.5,265.4 237.8,265.2 236.1,265.0 234.5,264.9 232.8,265.1 231.1,265.1 229.5,265.0 227.8,262.4 226.1,262.7 224.5,263.1 222.8,263.9 221.1,264.0 219.5,263.6 217.8,263.1 216.2,263.1 214.5,263.4 212.8,263.2 211.2,263.5 209.5,263.3 207.8,262.8 206.2,262.8 204.5,263.3 202.8,263.9 201.2,265.3 199.5,266.4 197.8,267.9 196.2,267.7 194.5,267.0 192.8,266.5 191.2,266.3 189.5,267.2 187.8,268.7 186.2,269.7 184.5,270.7 182.8,271.4 181.2,271.8 179.5,271.6 177.9,271.8 176.2,272.4 174.5,272.7 172.9,273.1 171.2,273.3 169.5,273.4 167.9,273.7 166.2,274.6 164.5,275.3 162.9,276.3 161.2,276.1 159.5,276.2 157.9,276.1 156.2,274.3 154.5,272.2 152.9,272.4 151.2,272.7 149.5,272.8 147.9,272.5 146.2,271.7 144.6,272.7 142.9,274.3 141.2,274.2 139.6,273.9 137.9,274.0 136.2,274.0 134.6,273.6 132.9,274.1 131.2,274.6 129.6,274.1 127.9,273.7 126.2,273.8 124.6,273.4 122.9,273.3 121.2,272.9 119.6,272.8 117.9,272.7 116.2,272.6 114.6,273.5 112.9,274.3 111.3,275.3 109.6,275.8 107.9,276.2 106.3,276.5 104.6,276.2 102.9,276.7 101.3,276.8 99.6,277.4 97.9,278.1 96.3,278.4 94.6,278.8 92.9,284.0 91.3,284.2 89.6,285.4 87.9,286.7 86.3,287.3 84.6,287.6 82.9,288.6 81.3,289.7 79.6,289.8 78.0,289.5 76.3,289.6 74.6,289.9 73.0,290.1 71.3,289.6 69.6,289.6 68.0,289.9 66.3,290.3 64.6,290.9 63.0,291.1 61.3,291.4Z" fill="#c6b5e3"/><path d="M61.3,265.3 63.0,264.5 64.6,264.1 66.3,263.4 68.0,262.6 69.6,262.0 71.3,262.0 73.0,262.3 74.6,262.1 76.3,261.7 78.0,261.5 79.6,261.6 81.3,261.4 82.9,260.3 84.6,259.1 86.3,258.2 87.9,257.3 89.6,255.9 91.3,254.6 92.9,254.2 94.6,250.7 96.3,250.5 97.9,250.4 99.6,250.2 101.3,250.0 102.9,250.3 104.6,249.8 106.3,249.9 107.9,249.5 109.6,249.2 111.3,248.8 112.9,247.9 114.6,247.4 116.2,245.6 117.9,243.4 119.6,240.9 121.2,240.3 122.9,240.3 124.6,239.8 126.2,239.6 127.9,239.2 129.6,238.9 131.2,238.8 132.9,238.6 134.6,238.3 136.2,238.8 137.9,239.0 139.6,238.8 141.2,239.0 142.9,239.0 144.6,237.9 146.2,237.5 147.9,236.9 149.5,235.9 151.2,236.6 152.9,238.0 154.5,239.3 156.2,240.7 157.9,241.8 159.5,241.2 161.2,240.5 162.9,240.4 164.5,240.1 166.2,238.9 167.9,237.7 169.5,237.1 171.2,236.6 172.9,235.7 174.5,234.9 176.2,234.1 177.9,233.2 179.5,232.7 181.2,232.4 182.8,231.8 184.5,230.9 186.2,230.1 187.8,229.9 189.5,229.3 191.2,228.4 192.8,228.6 194.5,228.9 196.2,228.6 197.8,228.0 199.5,227.7 201.2,227.5 202.8,227.0 204.5,226.7 206.2,226.5 207.8,225.9 209.5,224.9 211.2,224.5 212.8,224.2 214.5,224.4 216.2,224.5 217.8,224.3 219.5,224.8 221.1,225.2 222.8,225.2 224.5,225.4 226.1,225.7 227.8,225.8 229.5,228.4 231.1,228.3 232.8,228.2 234.5,228.4 236.1,228.5 237.8,228.8 239.5,229.1 241.1,229.1 242.8,229.0 244.5,228.7 246.1,228.7 247.8,229.0 249.5,229.2 251.1,229.4 252.8,229.5 254.4,229.4 256.1,229.3 257.8,221.9 259.4,221.4 261.1,221.3 262.8,221.6 264.4,221.7 266.1,221.4 267.8,221.7 269.4,222.0 271.1,222.0 272.8,221.9 274.4,221.6 276.1,221.7 277.8,221.9 279.4,222.2 281.1,222.0 282.8,221.4 284.4,221.2 286.1,221.5 287.7,221.5 289.4,221.8 291.1,221.7 292.7,221.2 294.4,223.9 296.1,223.5 297.7,223.2 299.4,223.0 301.1,222.8 302.7,222.8 304.4,222.8 306.1,222.6 307.7,222.4 309.4,222.3 311.1,221.7 312.7,221.4 314.4,221.6 316.1,221.9 317.7,221.6 319.4,220.9 321.0,221.3 322.7,221.4 324.4,221.0 326.0,221.1 327.7,221.3 329.4,221.2 331.0,220.4 332.7,220.6 334.4,220.6 336.0,220.8 337.7,220.9 339.4,220.6 341.0,220.2 342.7,220.1 344.4,220.0 346.0,220.1 347.7,220.3 349.4,219.8 351.0,219.7 352.7,219.7 354.4,219.6 356.0,219.8 357.7,220.1 359.3,220.0 361.0,220.2 362.7,220.6 364.3,220.7 366.0,217.9 367.7,216.4 369.3,216.6 371.0,217.6 372.7,217.7 374.3,217.8 376.0,217.1 377.7,216.4 379.3,216.1 381.0,215.4 382.7,216.0 384.3,217.0 386.0,217.6 387.7,218.0 389.3,206.5 391.0,206.3 392.6,205.8 394.3,205.3 396.0,204.5 397.6,204.0 399.3,204.2 401.0,201.3 402.6,201.1 404.3,200.2 406.0,199.5 407.6,198.9 409.3,197.4 411.0,197.0 412.6,196.6 414.3,195.7 416.0,195.0 417.6,194.3 419.3,193.8 421.0,193.1 422.6,192.7 424.3,192.4 425.9,192.0 427.6,191.1 429.3,190.7 430.9,190.2 432.6,189.3 434.3,188.9 435.9,188.7 437.6,187.8 439.3,186.7 440.9,185.9 442.6,184.4 444.3,183.6 445.9,182.7 447.6,182.0 449.3,181.4 450.9,180.7 452.6,179.9 454.3,178.7 455.9,177.7 457.6,175.6 459.3,173.4 460.9,171.5 462.6,169.9 464.2,167.4 465.9,164.6 467.6,161.9 469.2,159.8 470.9,157.7 472.6,159.4 474.2,158.0 475.9,157.0 477.6,156.0 479.2,154.9 480.9,153.4 482.6,151.8 484.2,150.7 485.9,149.4 487.6,147.8 489.2,146.5 490.9,145.2 492.6,144.5 494.2,142.8 495.9,141.4 497.5,141.0 499.2,140.8 500.9,140.0 502.5,139.0 504.2,137.8 505.9,136.8 507.5,136.0 509.2,135.1 510.9,133.9 512.5,133.4 514.2,132.7 515.9,132.3 517.5,130.4 519.2,128.1 520.9,128.1 522.5,129.1 524.2,128.3 525.9,126.8 527.5,125.6 529.2,124.6 530.8,124.6 532.5,124.4 534.2,123.6 535.8,122.5 537.5,120.8 539.2,119.8 540.8,119.3 542.5,118.7 544.2,117.6 545.8,117.2 547.5,116.4 549.2,115.5 550.8,115.4 552.5,115.8 554.2,115.9 555.8,116.4 557.5,116.3 559.2,116.2 560.8,116.3 562.5,117.1 564.1,118.2 565.8,118.6 567.5,117.6 569.1,117.3 570.8,116.8 572.5,116.5 574.1,115.6 575.8,114.5 577.5,114.3 579.1,114.5 580.8,113.2 582.5,112.3 584.1,112.2 585.8,113.8 587.5,114.7 589.1,115.2 590.8,115.0 592.5,115.2 594.1,115.4 595.8,115.5 597.5,116.3 599.1,117.5 600.8,118.3 602.4,117.7 604.1,117.1 605.8,116.3 607.4,115.7 609.1,114.5 610.8,113.5 612.4,112.8 614.1,112.1 615.8,111.7 617.4,110.8 619.1,109.8 620.8,109.3 622.4,109.6 624.1,110.3 625.8,111.0 627.4,110.5 629.1,109.5 630.8,109.1 632.4,109.0 634.1,108.6 635.7,109.3 637.4,110.2 639.1,111.6 640.7,112.3 642.4,112.9 644.1,113.2 645.7,113.5 647.4,113.5 649.1,114.0 650.7,114.1 652.4,113.9 654.1,114.5 655.7,114.4 657.4,113.9 659.1,114.1 660.7,114.1 662.4,114.1 664.1,114.2 665.7,114.4 667.4,114.7 669.0,114.9 670.7,115.0 672.4,115.0 674.0,115.0 675.7,115.0 677.4,114.8 679.0,115.5 680.7,115.7 682.4,115.6 684.0,114.9 685.7,114.9 687.4,115.8 689.0,114.8 690.7,113.2 692.4,113.0 694.0,112.7 695.7,113.0 697.4,112.5 699.0,112.0 700.7,116.6 702.3,117.4 704.0,117.6 705.7,118.0 707.3,119.0 709.0,119.8 710.7,120.0 712.3,120.5 714.0,121.1 715.7,121.8 717.3,122.8 719.0,123.2 L719.0,145.5 717.3,145.2 715.7,144.5 714.0,143.9 712.3,143.5 710.7,143.1 709.0,142.9 707.3,142.2 705.7,141.1 704.0,140.8 702.3,140.5 700.7,139.7 699.0,134.5 697.4,135.0 695.7,135.6 694.0,135.7 692.4,136.4 690.7,136.7 689.0,137.9 687.4,138.7 685.7,137.6 684.0,137.4 682.4,138.2 680.7,138.3 679.0,138.2 677.4,137.6 675.7,137.9 674.0,137.9 672.4,138.0 670.7,138.1 669.0,137.9 667.4,137.8 665.7,137.5 664.1,137.2 662.4,137.1 660.7,137.1 659.1,137.1 657.4,136.9 655.7,137.4 654.1,137.5 652.4,136.7 650.7,136.7 649.1,136.6 647.4,136.0 645.7,136.1 644.1,136.2 642.4,136.4 640.7,136.0 639.1,135.3 637.4,134.2 635.7,133.5 634.1,132.8 632.4,132.9 630.8,132.7 629.1,132.7 627.4,133.2 625.8,133.4 624.1,132.5 622.4,131.6 620.8,131.2 619.1,131.5 617.4,132.5 615.8,133.4 614.1,133.9 612.4,134.3 610.8,134.8 609.1,135.5 607.4,136.2 605.8,136.6 604.1,137.3 602.4,137.8 600.8,138.2 599.1,137.7 597.5,136.7 595.8,136.1 594.1,135.9 592.5,134.9 590.8,134.8 589.1,135.2 587.5,134.7 585.8,133.8 584.1,132.1 582.5,131.9 580.8,132.4 579.1,133.3 577.5,133.7 575.8,133.8 574.1,136.1 572.5,138.3 570.8,139.4 569.1,140.7 567.5,141.8 565.8,143.7 564.1,143.5 562.5,142.8 560.8,142.3 559.2,142.3 557.5,142.4 555.8,142.5 554.2,142.0 552.5,141.9 550.8,141.7 549.2,141.7 547.5,142.4 545.8,143.2 544.2,143.7 542.5,144.7 540.8,145.1 539.2,145.1 537.5,145.2 535.8,146.8 534.2,148.6 532.5,150.3 530.8,149.1 529.2,148.3 527.5,149.6 525.9,150.7 524.2,151.6 522.5,151.2 520.9,151.0 519.2,151.5 517.5,153.2 515.9,154.8 514.2,155.7 512.5,157.0 510.9,158.2 509.2,159.7 507.5,160.1 505.9,159.1 504.2,156.9 502.5,155.2 500.9,155.4 499.2,156.0 497.5,156.1 495.9,156.3 494.2,157.5 492.6,158.8 490.9,159.3 489.2,161.4 487.6,163.4 485.9,165.4 484.2,167.3 482.6,168.1 480.9,169.3 479.2,170.3 477.6,171.3 475.9,171.1 474.2,170.9 472.6,171.3 470.9,171.7 469.2,173.5 467.6,175.3 465.9,177.6 464.2,180.0 462.6,182.3 460.9,184.0 459.3,186.1 457.6,188.4 455.9,190.7 454.3,191.3 452.6,192.3 450.9,192.9 449.3,193.2 447.6,193.3 445.9,193.7 444.3,194.2 442.6,194.7 440.9,196.2 439.3,196.9 437.6,197.7 435.9,198.9 434.3,199.5 432.6,200.5 430.9,201.9 429.3,202.9 427.6,203.8 425.9,205.1 424.3,205.9 422.6,206.4 421.0,207.1 419.3,208.0 417.6,208.6 416.0,209.3 414.3,210.2 412.6,211.2 411.0,211.6 409.3,212.0 407.6,213.2 406.0,213.7 404.3,214.4 402.6,215.2 401.0,215.4 399.3,218.3 397.6,217.9 396.0,218.2 394.3,218.8 392.6,219.1 391.0,219.4 389.3,219.4 387.7,230.2 386.0,229.8 384.3,229.5 382.7,228.6 381.0,228.2 379.3,228.8 377.7,228.9 376.0,229.3 374.3,229.6 372.7,229.1 371.0,229.6 369.3,229.6 367.7,229.8 366.0,230.4 364.3,232.8 362.7,232.5 361.0,232.0 359.3,231.7 357.7,231.8 356.0,231.4 354.4,231.1 352.7,231.0 351.0,231.1 349.4,231.4 347.7,232.0 346.0,232.0 344.4,232.2 342.7,232.3 341.0,232.5 339.4,233.1 337.7,233.6 336.0,233.6 334.4,233.5 332.7,233.6 331.0,233.5 329.4,234.3 327.7,234.6 326.0,234.3 324.4,234.2 322.7,234.5 321.0,234.3 319.4,233.8 317.7,234.4 316.1,234.6 314.4,234.2 312.7,233.9 311.1,234.2 309.4,234.6 307.7,234.6 306.1,234.8 304.4,234.9 302.7,234.8 301.1,234.8 299.4,235.1 297.7,235.2 296.1,235.4 294.4,235.8 292.7,232.6 291.1,233.1 289.4,233.1 287.7,232.8 286.1,232.9 284.4,232.8 282.8,233.2 281.1,233.9 279.4,234.4 277.8,234.4 276.1,234.5 274.4,234.8 272.8,235.5 271.1,235.7 269.4,235.7 267.8,235.6 266.1,235.9 264.4,236.2 262.8,236.1 261.1,236.0 259.4,236.2 257.8,236.8 256.1,243.6 254.4,243.7 252.8,243.7 251.1,243.5 249.5,243.4 247.8,243.3 246.1,243.1 244.5,243.2 242.8,243.3 241.1,243.3 239.5,243.4 237.8,243.1 236.1,243.0 234.5,243.0 232.8,242.9 231.1,243.0 229.5,243.2 227.8,241.3 226.1,241.1 224.5,240.9 222.8,240.8 221.1,240.8 219.5,240.5 217.8,240.0 216.2,240.1 214.5,239.9 212.8,239.4 211.2,239.3 209.5,239.3 207.8,239.8 206.2,240.3 204.5,240.9 202.8,241.4 201.2,243.0 199.5,244.3 197.8,245.8 196.2,245.8 194.5,245.0 192.8,244.4 191.2,244.2 189.5,245.1 187.8,246.3 186.2,247.1 184.5,248.1 182.8,248.7 181.2,249.1 179.5,249.0 177.9,249.2 176.2,249.7 174.5,250.2 172.9,250.6 171.2,251.2 169.5,251.6 167.9,252.1 166.2,253.0 164.5,253.9 162.9,254.0 161.2,253.7 159.5,253.9 157.9,254.0 156.2,253.1 154.5,251.7 152.9,250.4 151.2,249.0 149.5,248.1 147.9,248.4 146.2,248.2 144.6,250.5 142.9,252.5 141.2,252.3 139.6,252.0 137.9,252.0 136.2,251.9 134.6,251.3 132.9,251.5 131.2,251.5 129.6,251.5 127.9,251.6 126.2,251.9 124.6,251.8 122.9,252.1 121.2,252.1 119.6,251.9 117.9,251.7 116.2,251.4 114.6,251.5 112.9,252.0 111.3,253.0 109.6,253.6 107.9,254.0 106.3,254.5 104.6,254.5 102.9,255.1 101.3,255.3 99.6,256.0 97.9,256.9 96.3,257.5 94.6,258.0 92.9,262.1 91.3,262.5 89.6,263.9 87.9,265.3 86.3,266.0 84.6,266.6 82.9,267.6 81.3,268.7 79.6,268.9 78.0,268.8 76.3,269.0 74.6,269.4 73.0,269.6 71.3,269.2 69.6,269.3 68.0,269.9 66.3,270.3 64.6,270.8 63.0,270.9 61.3,271.3Z" fill="#f4d283"/><path d="M61.3,253.5 63.0,252.7 64.6,252.4 66.3,251.8 68.0,251.0 69.6,250.7 71.3,250.8 73.0,251.4 74.6,251.4 76.3,250.8 78.0,250.4 79.6,250.1 81.3,249.7 82.9,248.7 84.6,247.6 86.3,246.9 87.9,246.2 89.6,244.9 91.3,243.8 92.9,244.2 94.6,237.7 96.3,237.1 97.9,236.5 99.6,236.0 101.3,235.5 102.9,235.4 104.6,234.6 106.3,234.2 107.9,233.8 109.6,233.4 111.3,233.0 112.9,232.1 114.6,231.6 116.2,229.4 117.9,227.0 119.6,224.0 121.2,223.3 122.9,223.5 124.6,223.1 126.2,223.1 127.9,222.7 129.6,222.4 131.2,222.5 132.9,222.3 134.6,221.9 136.2,222.6 137.9,222.7 139.6,222.4 141.2,222.5 142.9,222.5 144.6,221.7 146.2,221.8 147.9,221.8 149.5,221.2 151.2,222.1 152.9,223.5 154.5,224.9 156.2,226.3 157.9,227.4 159.5,227.3 161.2,226.3 162.9,225.6 164.5,225.0 166.2,224.0 167.9,222.9 169.5,222.4 171.2,222.0 172.9,221.2 174.5,220.4 176.2,219.9 177.9,219.2 179.5,218.9 181.2,218.9 182.8,218.6 184.5,217.7 186.2,216.8 187.8,216.2 189.5,215.3 191.2,214.0 192.8,214.3 194.5,214.7 196.2,214.7 197.8,214.3 199.5,214.1 201.2,213.8 202.8,213.1 204.5,212.9 206.2,212.8 207.8,212.3 209.5,211.3 211.2,210.8 212.8,210.6 214.5,211.1 216.2,211.7 217.8,211.7 219.5,212.3 221.1,213.1 222.8,213.3 224.5,213.8 226.1,214.3 227.8,214.4 229.5,217.7 231.1,217.7 232.8,217.5 234.5,217.7 236.1,217.7 237.8,218.0 239.5,218.3 241.1,218.2 242.8,218.1 244.5,217.6 246.1,217.5 247.8,217.7 249.5,217.8 251.1,217.9 252.8,217.9 254.4,217.6 256.1,217.5 257.8,210.8 259.4,209.9 261.1,209.4 262.8,209.2 264.4,209.1 266.1,209.8 267.8,210.7 269.4,210.9 271.1,210.7 272.8,210.5 274.4,210.0 276.1,209.9 277.8,210.0 279.4,210.3 281.1,210.0 282.8,209.4 284.4,209.3 286.1,209.5 287.7,209.5 289.4,209.9 291.1,209.6 292.7,209.2 294.4,212.6 296.1,212.2 297.7,211.9 299.4,211.6 301.1,211.5 302.7,211.5 304.4,211.3 306.1,210.9 307.7,210.4 309.4,210.3 311.1,209.6 312.7,209.1 314.4,209.1 316.1,209.3 317.7,209.0 319.4,208.4 321.0,208.9 322.7,208.9 324.4,208.4 326.0,208.5 327.7,208.8 329.4,208.5 331.0,207.7 332.7,208.1 334.4,208.1 336.0,208.2 337.7,208.4 339.4,208.0 341.0,207.4 342.7,207.4 344.4,207.2 346.0,207.2 347.7,207.4 349.4,206.8 351.0,206.5 352.7,206.4 354.4,206.5 356.0,206.6 357.7,207.0 359.3,206.9 361.0,207.1 362.7,207.4 364.3,207.4 366.0,204.6 367.7,203.3 369.3,203.2 371.0,203.8 372.7,204.0 374.3,204.0 376.0,203.4 377.7,202.6 379.3,202.1 381.0,201.5 382.7,202.1 384.3,203.2 386.0,203.7 387.7,204.0 389.3,193.8 391.0,193.5 392.6,192.9 394.3,192.4 396.0,191.6 397.6,190.9 399.3,190.9 401.0,187.5 402.6,187.3 404.3,186.3 406.0,185.4 407.6,184.6 409.3,183.0 411.0,182.5 412.6,182.0 414.3,180.9 416.0,180.0 417.6,179.2 419.3,178.5 421.0,177.6 422.6,177.1 424.3,176.8 425.9,175.6 427.6,173.7 429.3,172.4 430.9,170.9 432.6,169.0 434.3,167.8 435.9,166.6 437.6,165.2 439.3,164.6 440.9,164.5 442.6,163.5 444.3,163.3 445.9,162.6 447.6,162.4 449.3,162.4 450.9,162.0 452.6,161.6 454.3,160.7 455.9,157.5 457.6,153.4 459.3,150.5 460.9,149.0 462.6,147.7 464.2,145.6 465.9,143.0 467.6,140.5 469.2,138.7 470.9,136.5 472.6,136.9 474.2,137.5 475.9,137.8 477.6,136.3 479.2,134.8 480.9,133.5 482.6,131.9 484.2,130.7 485.9,129.0 487.6,127.2 489.2,125.5 490.9,123.7 492.6,121.9 494.2,119.1 495.9,118.9 497.5,119.5 499.2,118.4 500.9,116.8 502.5,115.0 504.2,114.8 505.9,114.5 507.5,113.4 509.2,112.1 510.9,110.7 512.5,110.0 514.2,109.2 515.9,108.6 517.5,107.3 519.2,106.5 520.9,106.8 522.5,107.3 524.2,107.2 525.9,105.5 527.5,104.0 529.2,103.0 530.8,103.1 532.5,103.0 534.2,101.6 535.8,100.0 537.5,98.3 539.2,97.5 540.8,97.0 542.5,96.4 544.2,95.4 545.8,94.5 547.5,93.4 549.2,92.2 550.8,92.6 552.5,93.2 554.2,93.6 555.8,94.3 557.5,94.3 559.2,94.4 560.8,94.7 562.5,95.8 564.1,97.4 565.8,98.3 567.5,97.1 569.1,96.3 570.8,95.6 572.5,94.9 574.1,93.6 575.8,92.2 577.5,92.0 579.1,92.3 580.8,91.2 582.5,90.4 584.1,90.5 585.8,92.4 587.5,93.5 589.1,94.0 590.8,93.9 592.5,94.1 594.1,94.3 595.8,94.6 597.5,95.6 599.1,96.9 600.8,97.9 602.4,97.3 604.1,96.7 605.8,96.0 607.4,95.3 609.1,94.1 610.8,93.3 612.4,92.4 614.1,91.6 615.8,91.3 617.4,90.7 619.1,90.0 620.8,89.5 622.4,89.7 624.1,90.5 625.8,91.3 627.4,90.7 629.1,89.4 630.8,88.9 632.4,88.7 634.1,88.1 635.7,88.8 637.4,89.8 639.1,91.3 640.7,92.0 642.4,92.6 644.1,92.8 645.7,93.1 647.4,93.3 649.1,94.1 650.7,94.4 652.4,94.4 654.1,95.3 655.7,95.3 657.4,94.8 659.1,94.8 660.7,94.7 662.4,94.9 664.1,95.2 665.7,95.4 667.4,95.7 669.0,95.7 670.7,95.5 672.4,95.2 674.0,95.0 675.7,94.7 677.4,94.4 679.0,95.1 680.7,95.3 682.4,95.3 684.0,94.5 685.7,94.5 687.4,95.0 689.0,94.1 690.7,93.2 692.4,93.3 694.0,92.7 695.7,92.5 697.4,91.7 699.0,91.1 700.7,96.3 702.3,97.7 704.0,98.7 705.7,98.9 707.3,99.9 709.0,100.5 710.7,100.6 712.3,101.0 714.0,101.6 715.7,102.4 717.3,103.2 719.0,103.4 L719.0,123.6 717.3,123.2 715.7,122.2 714.0,121.5 712.3,120.9 710.7,120.4 709.0,120.2 707.3,119.4 705.7,118.4 704.0,118.0 702.3,117.8 700.7,117.0 699.0,112.4 697.4,112.9 695.7,113.4 694.0,113.1 692.4,113.4 690.7,113.6 689.0,115.2 687.4,116.2 685.7,115.3 684.0,115.3 682.4,116.0 680.7,116.1 679.0,115.9 677.4,115.2 675.7,115.4 674.0,115.4 672.4,115.4 670.7,115.4 669.0,115.3 667.4,115.1 665.7,114.8 664.1,114.6 662.4,114.5 660.7,114.5 659.1,114.5 657.4,114.3 655.7,114.8 654.1,114.9 652.4,114.3 650.7,114.5 649.1,114.4 647.4,113.9 645.7,113.9 644.1,113.6 642.4,113.3 640.7,112.7 639.1,112.0 637.4,110.6 635.7,109.7 634.1,109.0 632.4,109.4 630.8,109.5 629.1,109.9 627.4,110.9 625.8,111.4 624.1,110.7 622.4,110.0 620.8,109.7 619.1,110.2 617.4,111.2 615.8,112.1 614.1,112.5 612.4,113.2 610.8,113.9 609.1,114.9 607.4,116.1 605.8,116.7 604.1,117.5 602.4,118.1 600.8,118.7 599.1,117.9 597.5,116.7 595.8,115.9 594.1,115.8 592.5,115.6 590.8,115.4 589.1,115.6 587.5,115.1 585.8,114.2 584.1,112.6 582.5,112.7 580.8,113.6 579.1,114.9 577.5,114.7 575.8,114.9 574.1,116.0 572.5,116.9 570.8,117.2 569.1,117.7 567.5,118.0 565.8,119.0 564.1,118.6 562.5,117.5 560.8,116.7 559.2,116.6 557.5,116.7 555.8,116.8 554.2,116.3 552.5,116.2 550.8,115.8 549.2,115.9 547.5,116.8 545.8,117.6 544.2,118.0 542.5,119.1 540.8,119.7 539.2,120.2 537.5,121.2 535.8,122.9 534.2,124.0 532.5,124.8 530.8,125.0 529.2,125.0 527.5,126.0 525.9,127.2 524.2,128.7 522.5,129.5 520.9,128.5 519.2,128.5 517.5,130.8 515.9,132.7 514.2,133.1 512.5,133.8 510.9,134.3 509.2,135.5 507.5,136.4 505.9,137.2 504.2,138.2 502.5,139.4 500.9,140.4 499.2,141.2 497.5,141.4 495.9,141.8 494.2,143.2 492.6,144.9 490.9,145.6 489.2,146.9 487.6,148.2 485.9,149.8 484.2,151.1 482.6,152.2 480.9,153.8 479.2,155.3 477.6,156.4 475.9,157.4 474.2,158.4 472.6,159.8 470.9,158.1 469.2,160.2 467.6,162.3 465.9,165.0 464.2,167.8 462.6,170.3 460.9,171.9 459.3,173.8 457.6,176.0 455.9,178.1 454.3,179.1 452.6,180.3 450.9,181.1 449.3,181.8 447.6,182.4 445.9,183.1 444.3,184.0 442.6,184.8 440.9,186.3 439.3,187.1 437.6,188.2 435.9,189.1 434.3,189.3 432.6,189.7 430.9,190.6 429.3,191.1 427.6,191.5 425.9,192.4 424.3,192.8 422.6,193.1 421.0,193.5 419.3,194.2 417.6,194.7 416.0,195.4 414.3,196.1 412.6,197.0 411.0,197.4 409.3,197.8 407.6,199.3 406.0,199.9 404.3,200.6 402.6,201.5 401.0,201.7 399.3,204.6 397.6,204.4 396.0,204.9 394.3,205.7 392.6,206.2 391.0,206.7 389.3,206.9 387.7,218.4 386.0,218.0 384.3,217.4 382.7,216.4 381.0,215.8 379.3,216.5 377.7,216.8 376.0,217.5 374.3,218.2 372.7,218.1 371.0,218.0 369.3,217.0 367.7,216.8 366.0,218.3 364.3,221.1 362.7,221.0 361.0,220.6 359.3,220.4 357.7,220.5 356.0,220.2 354.4,220.0 352.7,220.1 351.0,220.1 349.4,220.2 347.7,220.7 346.0,220.5 344.4,220.4 342.7,220.5 341.0,220.6 339.4,221.0 337.7,221.3 336.0,221.2 334.4,221.0 332.7,221.0 331.0,220.8 329.4,221.6 327.7,221.7 326.0,221.5 324.4,221.4 322.7,221.8 321.0,221.7 319.4,221.3 317.7,222.0 316.1,222.3 314.4,222.0 312.7,221.8 311.1,222.1 309.4,222.7 307.7,222.8 306.1,223.0 304.4,223.2 302.7,223.2 301.1,223.2 299.4,223.4 297.7,223.6 296.1,223.9 294.4,224.3 292.7,221.6 291.1,222.1 289.4,222.2 287.7,221.9 286.1,221.9 284.4,221.6 282.8,221.8 281.1,222.4 279.4,222.6 277.8,222.3 276.1,222.1 274.4,222.0 272.8,222.3 271.1,222.4 269.4,222.4 267.8,222.1 266.1,221.8 264.4,222.1 262.8,222.0 261.1,221.7 259.4,221.8 257.8,222.3 256.1,229.7 254.4,229.8 252.8,229.9 251.1,229.8 249.5,229.6 247.8,229.4 246.1,229.1 244.5,229.1 242.8,229.4 241.1,229.5 239.5,229.5 237.8,229.2 236.1,228.9 234.5,228.8 232.8,228.6 231.1,228.7 229.5,228.8 227.8,226.2 226.1,226.1 224.5,225.8 222.8,225.6 221.1,225.6 219.5,225.2 217.8,224.7 216.2,224.9 214.5,224.8 212.8,224.6 211.2,224.9 209.5,225.3 207.8,226.3 206.2,226.9 204.5,227.1 202.8,227.4 201.2,227.9 199.5,228.1 197.8,228.4 196.2,229.0 194.5,229.3 192.8,229.0 191.2,228.8 189.5,229.7 187.8,230.3 186.2,230.5 184.5,231.3 182.8,232.2 181.2,232.8 179.5,233.1 177.9,233.6 176.2,234.5 174.5,235.3 172.9,236.1 171.2,237.0 169.5,237.5 167.9,238.1 166.2,239.3 164.5,240.5 162.9,240.8 161.2,240.9 159.5,241.6 157.9,242.2 156.2,241.1 154.5,239.7 152.9,238.4 151.2,237.0 149.5,236.3 147.9,237.3 146.2,237.9 144.6,238.3 142.9,239.4 141.2,239.4 139.6,239.2 137.9,239.4 136.2,239.2 134.6,238.7 132.9,239.0 131.2,239.2 129.6,239.3 127.9,239.6 126.2,240.0 124.6,240.2 122.9,240.7 121.2,240.7 119.6,241.3 117.9,243.8 116.2,246.0 114.6,247.8 112.9,248.3 111.3,249.2 109.6,249.6 107.9,249.9 106.3,250.3 104.6,250.2 102.9,250.7 101.3,250.4 99.6,250.6 97.9,250.8 96.3,250.9 94.6,251.1 92.9,254.6 91.3,255.0 89.6,256.3 87.9,257.7 86.3,258.6 84.6,259.5 82.9,260.7 81.3,261.8 79.6,262.0 78.0,261.9 76.3,262.1 74.6,262.5 73.0,262.7 71.3,262.4 69.6,262.4 68.0,263.0 66.3,263.8 64.6,264.5 63.0,264.9 61.3,265.7Z" fill="#a9dfd3"/><path d="M61.3,234.7 63.0,234.4 64.6,234.5 66.3,234.3 68.0,233.9 69.6,233.5 71.3,233.3 73.0,233.6 74.6,233.3 76.3,232.8 78.0,232.7 79.6,232.7 81.3,232.4 82.9,231.7 84.6,231.0 86.3,230.5 87.9,229.9 89.6,228.9 91.3,228.2 92.9,228.7 94.6,220.2 96.3,219.6 97.9,219.2 99.6,218.9 101.3,218.4 102.9,218.4 104.6,217.8 106.3,217.5 107.9,217.0 109.6,216.6 111.3,216.1 112.9,215.1 114.6,214.7 116.2,213.7 117.9,212.7 119.6,211.1 121.2,210.7 122.9,210.9 124.6,210.5 126.2,210.4 127.9,210.0 129.6,209.6 131.2,209.7 132.9,209.3 134.6,208.8 136.2,209.4 137.9,209.2 139.6,209.0 141.2,209.0 142.9,208.9 144.6,208.0 146.2,208.2 147.9,208.1 149.5,207.5 151.2,208.4 152.9,209.7 154.5,211.1 156.2,212.4 157.9,213.6 159.5,213.1 161.2,212.4 162.9,212.3 164.5,211.6 166.2,210.2 167.9,208.8 169.5,208.0 171.2,207.3 172.9,206.2 174.5,205.4 176.2,204.9 177.9,204.3 179.5,204.1 181.2,204.3 182.8,204.2 184.5,203.4 186.2,202.4 187.8,202.0 189.5,201.3 191.2,200.2 192.8,200.4 194.5,200.6 196.2,200.5 197.8,200.0 199.5,199.9 201.2,200.0 202.8,199.7 204.5,199.7 206.2,199.5 207.8,199.2 209.5,198.1 211.2,197.7 212.8,197.5 214.5,197.9 216.2,198.5 217.8,198.5 219.5,199.2 221.1,199.9 222.8,200.1 224.5,200.6 226.1,201.1 227.8,201.2 229.5,204.5 231.1,204.6 232.8,204.6 234.5,204.6 236.1,204.7 237.8,205.0 239.5,205.3 241.1,205.4 242.8,205.3 244.5,204.8 246.1,204.6 247.8,204.9 249.5,205.1 251.1,205.2 252.8,205.2 254.4,205.1 256.1,204.8 257.8,198.2 259.4,197.5 261.1,197.2 262.8,197.2 264.4,197.2 266.1,198.0 267.8,199.0 269.4,199.2 271.1,198.8 272.8,198.4 274.4,197.8 276.1,197.5 277.8,197.4 279.4,197.7 281.1,197.3 282.8,196.6 284.4,196.3 286.1,196.5 287.7,196.3 289.4,196.6 291.1,196.4 292.7,196.0 294.4,198.6 296.1,198.2 297.7,198.0 299.4,197.8 301.1,197.7 302.7,197.6 304.4,197.6 306.1,197.1 307.7,196.7 309.4,196.6 311.1,195.8 312.7,195.3 314.4,195.3 316.1,195.4 317.7,194.9 319.4,194.1 321.0,194.5 322.7,194.3 324.4,193.6 326.0,193.6 327.7,193.7 329.4,193.5 331.0,192.6 332.7,192.9 334.4,192.7 336.0,192.7 337.7,192.8 339.4,192.3 341.0,191.7 342.7,191.8 344.4,191.9 346.0,191.9 347.7,191.9 349.4,191.6 351.0,191.4 352.7,191.3 354.4,191.6 356.0,191.7 357.7,192.0 359.3,191.8 361.0,192.1 362.7,192.4 364.3,192.4 366.0,188.9 367.7,187.6 369.3,187.5 371.0,188.1 372.7,188.1 374.3,187.9 376.0,187.1 377.7,186.1 379.3,185.3 381.0,184.5 382.7,185.2 384.3,186.3 386.0,186.7 387.7,187.0 389.3,174.9 391.0,174.6 392.6,174.1 394.3,173.7 396.0,172.9 397.6,172.1 399.3,172.0 401.0,167.3 402.6,167.2 404.3,166.5 406.0,165.7 407.6,164.9 409.3,163.4 411.0,163.0 412.6,162.5 414.3,161.2 416.0,160.3 417.6,159.5 419.3,158.6 421.0,157.8 422.6,157.1 424.3,156.8 425.9,156.1 427.6,154.7 429.3,153.3 430.9,151.6 432.6,149.4 434.3,148.1 435.9,147.0 437.6,145.3 439.3,144.1 440.9,143.6 442.6,142.4 444.3,141.9 445.9,141.4 447.6,141.3 449.3,141.4 450.9,140.9 452.6,140.4 454.3,139.4 455.9,136.5 457.6,133.0 459.3,130.3 460.9,128.3 462.6,126.7 464.2,124.6 465.9,122.4 467.6,120.4 469.2,118.9 470.9,116.9 472.6,115.4 474.2,116.5 475.9,117.4 477.6,117.0 479.2,116.5 480.9,115.3 482.6,113.5 484.2,112.2 485.9,109.7 487.6,106.9 489.2,104.2 490.9,101.4 492.6,100.2 494.2,97.9 495.9,97.7 497.5,98.5 499.2,97.6 500.9,96.2 502.5,94.6 504.2,92.7 505.9,91.1 507.5,89.7 509.2,88.2 510.9,86.9 512.5,86.5 514.2,85.9 515.9,85.2 517.5,83.7 519.2,82.7 520.9,82.8 522.5,82.9 524.2,82.3 525.9,81.0 527.5,79.9 529.2,79.4 530.8,80.2 532.5,81.1 534.2,80.2 535.8,77.9 537.5,75.7 539.2,75.3 540.8,75.2 542.5,74.9 544.2,74.0 545.8,73.0 547.5,72.0 549.2,70.8 550.8,71.4 552.5,72.3 554.2,72.9 555.8,73.4 557.5,73.1 559.2,73.0 560.8,73.3 562.5,74.2 564.1,75.7 565.8,76.4 567.5,75.2 569.1,74.8 570.8,74.6 572.5,74.2 574.1,73.5 575.8,72.5 577.5,72.1 579.1,72.1 580.8,71.1 582.5,70.3 584.1,70.3 585.8,72.1 587.5,72.9 589.1,73.3 590.8,73.2 592.5,73.7 594.1,74.1 595.8,74.7 597.5,76.0 599.1,77.2 600.8,78.3 602.4,77.9 604.1,77.3 605.8,76.6 607.4,75.8 609.1,74.6 610.8,73.8 612.4,73.0 614.1,72.2 615.8,71.7 617.4,70.8 619.1,69.8 620.8,69.3 622.4,69.4 624.1,70.0 625.8,70.6 627.4,70.0 629.1,68.9 630.8,68.6 632.4,68.3 634.1,68.1 635.7,68.8 637.4,69.7 639.1,71.2 640.7,72.0 642.4,72.7 644.1,73.1 645.7,73.5 647.4,73.8 649.1,74.6 650.7,74.9 652.4,74.9 654.1,75.9 655.7,76.0 657.4,75.5 659.1,75.7 660.7,75.8 662.4,75.9 664.1,76.1 665.7,76.3 667.4,76.4 669.0,76.2 670.7,76.2 672.4,76.0 674.0,76.0 675.7,75.9 677.4,75.6 679.0,76.2 680.7,76.3 682.4,76.4 684.0,75.7 685.7,75.7 687.4,76.0 689.0,75.0 690.7,73.9 692.4,73.9 694.0,73.4 695.7,73.4 697.4,72.8 699.0,72.2 700.7,78.8 702.3,79.9 704.0,80.6 705.7,80.8 707.3,81.7 709.0,82.3 710.7,82.3 712.3,82.8 714.0,83.4 715.7,84.2 717.3,84.8 719.0,85.2 L719.0,103.8 717.3,103.6 715.7,102.8 714.0,102.0 712.3,101.4 710.7,101.0 709.0,100.9 707.3,100.3 705.7,99.3 704.0,99.1 702.3,98.1 700.7,96.7 699.0,91.5 697.4,92.1 695.7,92.9 694.0,93.1 692.4,93.7 690.7,93.6 689.0,94.5 687.4,95.4 685.7,94.9 684.0,94.9 682.4,95.7 680.7,95.7 679.0,95.5 677.4,94.8 675.7,95.1 674.0,95.4 672.4,95.6 670.7,95.9 669.0,96.1 667.4,96.1 665.7,95.8 664.1,95.6 662.4,95.3 660.7,95.1 659.1,95.2 657.4,95.2 655.7,95.7 654.1,95.7 652.4,94.8 650.7,94.8 649.1,94.5 647.4,93.7 645.7,93.5 644.1,93.2 642.4,93.0 640.7,92.4 639.1,91.7 637.4,90.2 635.7,89.2 634.1,88.5 632.4,89.1 630.8,89.3 629.1,89.8 627.4,91.1 625.8,91.7 624.1,90.9 622.4,90.1 620.8,89.9 619.1,90.4 617.4,91.1 615.8,91.7 614.1,92.0 612.4,92.8 610.8,93.7 609.1,94.5 607.4,95.7 605.8,96.4 604.1,97.1 602.4,97.7 600.8,98.3 599.1,97.3 597.5,96.0 595.8,95.0 594.1,94.7 592.5,94.5 590.8,94.3 589.1,94.4 587.5,93.9 585.8,92.8 584.1,90.9 582.5,90.8 580.8,91.6 579.1,92.7 577.5,92.4 575.8,92.6 574.1,94.0 572.5,95.3 570.8,96.0 569.1,96.7 567.5,97.5 565.8,98.7 564.1,97.8 562.5,96.2 560.8,95.1 559.2,94.8 557.5,94.7 555.8,94.7 554.2,94.0 552.5,93.6 550.8,93.0 549.2,92.6 547.5,93.8 545.8,94.9 544.2,95.8 542.5,96.8 540.8,97.4 539.2,97.9 537.5,98.7 535.8,100.4 534.2,102.0 532.5,103.4 530.8,103.5 529.2,103.4 527.5,104.4 525.9,105.9 524.2,107.6 522.5,107.7 520.9,107.2 519.2,106.9 517.5,107.7 515.9,109.0 514.2,109.6 512.5,110.4 510.9,111.1 509.2,112.5 507.5,113.8 505.9,114.9 504.2,115.2 502.5,115.4 500.9,117.2 499.2,118.8 497.5,119.9 495.9,119.3 494.2,119.5 492.6,122.3 490.9,124.1 489.2,125.9 487.6,127.6 485.9,129.4 484.2,131.1 482.6,132.3 480.9,133.9 479.2,135.2 477.6,136.7 475.9,138.2 474.2,137.9 472.6,137.3 470.9,136.9 469.2,139.1 467.6,140.9 465.9,143.4 464.2,146.0 462.6,148.1 460.9,149.4 459.3,150.9 457.6,153.8 455.9,157.9 454.3,161.1 452.6,162.0 450.9,162.4 449.3,162.8 447.6,162.8 445.9,163.0 444.3,163.7 442.6,163.9 440.9,164.9 439.3,165.0 437.6,165.6 435.9,167.0 434.3,168.2 432.6,169.4 430.9,171.3 429.3,172.8 427.6,174.1 425.9,176.0 424.3,177.2 422.6,177.5 421.0,178.0 419.3,178.9 417.6,179.6 416.0,180.4 414.3,181.3 412.6,182.4 411.0,182.9 409.3,183.4 407.6,185.0 406.0,185.8 404.3,186.7 402.6,187.7 401.0,187.9 399.3,191.3 397.6,191.3 396.0,192.0 394.3,192.8 392.6,193.3 391.0,193.9 389.3,194.2 387.7,204.4 386.0,204.1 384.3,203.6 382.7,202.5 381.0,201.9 379.3,202.5 377.7,203.0 376.0,203.8 374.3,204.4 372.7,204.4 371.0,204.2 369.3,203.6 367.7,203.7 366.0,205.0 364.3,207.8 362.7,207.8 361.0,207.5 359.3,207.3 357.7,207.4 356.0,207.0 354.4,206.9 352.7,206.8 351.0,206.9 349.4,207.2 347.7,207.8 346.0,207.6 344.4,207.6 342.7,207.8 341.0,207.8 339.4,208.4 337.7,208.8 336.0,208.6 334.4,208.5 332.7,208.5 331.0,208.1 329.4,208.9 327.7,209.2 326.0,208.9 324.4,208.8 322.7,209.3 321.0,209.3 319.4,208.8 317.7,209.4 316.1,209.7 314.4,209.5 312.7,209.5 311.1,210.0 309.4,210.7 307.7,210.8 306.1,211.3 304.4,211.7 302.7,211.9 301.1,211.9 299.4,212.0 297.7,212.3 296.1,212.6 294.4,213.0 292.7,209.6 291.1,210.0 289.4,210.3 287.7,209.9 286.1,209.9 284.4,209.7 282.8,209.8 281.1,210.4 279.4,210.7 277.8,210.4 276.1,210.3 274.4,210.4 272.8,210.9 271.1,211.1 269.4,211.3 267.8,211.1 266.1,210.2 264.4,209.5 262.8,209.6 261.1,209.8 259.4,210.3 257.8,211.2 256.1,217.9 254.4,218.0 252.8,218.3 251.1,218.3 249.5,218.2 247.8,218.1 246.1,217.9 244.5,218.0 242.8,218.5 241.1,218.6 239.5,218.7 237.8,218.4 236.1,218.1 234.5,218.1 232.8,217.9 231.1,218.1 229.5,218.1 227.8,214.8 226.1,214.7 224.5,214.2 222.8,213.7 221.1,213.5 219.5,212.7 217.8,212.1 216.2,212.1 214.5,211.5 212.8,211.0 211.2,211.2 209.5,211.7 207.8,212.7 206.2,213.2 204.5,213.3 202.8,213.5 201.2,214.2 199.5,214.5 197.8,214.7 196.2,215.1 194.5,215.1 192.8,214.7 191.2,214.4 189.5,215.7 187.8,216.6 186.2,217.2 184.5,218.1 182.8,219.0 181.2,219.3 179.5,219.3 177.9,219.6 176.2,220.3 174.5,220.8 172.9,221.6 171.2,222.4 169.5,222.8 167.9,223.3 166.2,224.4 164.5,225.4 162.9,226.0 161.2,226.7 159.5,227.7 157.9,227.8 156.2,226.7 154.5,225.3 152.9,223.9 151.2,222.5 149.5,221.6 147.9,222.2 146.2,222.2 144.6,222.1 142.9,222.9 141.2,222.9 139.6,222.8 137.9,223.1 136.2,223.0 134.6,222.3 132.9,222.7 131.2,222.9 129.6,222.8 127.9,223.1 126.2,223.5 124.6,223.5 122.9,223.9 121.2,223.7 119.6,224.4 117.9,227.4 116.2,229.8 114.6,232.0 112.9,232.5 111.3,233.4 109.6,233.8 107.9,234.2 106.3,234.6 104.6,235.0 102.9,235.8 101.3,235.9 99.6,236.4 97.9,236.9 96.3,237.5 94.6,238.1 92.9,244.6 91.3,244.2 89.6,245.3 87.9,246.6 86.3,247.3 84.6,248.0 82.9,249.1 81.3,250.1 79.6,250.5 78.0,250.8 76.3,251.2 74.6,251.8 73.0,251.8 71.3,251.2 69.6,251.1 68.0,251.4 66.3,252.2 64.6,252.8 63.0,253.1 61.3,253.9Z" fill="#f9a8a6"/><path d="M61.3,230.9 63.0,230.5 64.6,230.6 66.3,230.2 68.0,229.6 69.6,229.2 71.3,229.0 73.0,229.4 74.6,229.1 76.3,228.5 78.0,228.4 79.6,228.5 81.3,228.3 82.9,227.5 84.6,226.7 86.3,226.3 87.9,225.8 89.6,224.7 91.3,224.0 92.9,224.5 94.6,217.1 96.3,216.2 97.9,215.6 99.6,215.0 101.3,214.3 102.9,214.2 104.6,213.6 106.3,213.3 107.9,212.8 109.6,212.5 111.3,212.1 112.9,211.0 114.6,210.1 116.2,209.3 117.9,207.1 119.6,205.2 121.2,204.5 122.9,204.0 124.6,203.6 126.2,203.6 127.9,203.3 129.6,202.9 131.2,203.0 132.9,202.6 134.6,202.1 136.2,202.6 137.9,202.4 139.6,202.2 141.2,202.2 142.9,202.1 144.6,201.2 146.2,201.5 147.9,201.4 149.5,200.9 151.2,201.8 152.9,203.1 154.5,204.3 156.2,205.7 157.9,207.2 159.5,206.1 161.2,205.1 162.9,205.3 164.5,204.7 166.2,203.4 167.9,202.2 169.5,201.5 171.2,201.0 172.9,199.9 174.5,199.1 176.2,198.5 177.9,197.8 179.5,197.5 181.2,197.6 182.8,197.5 184.5,196.5 186.2,195.6 187.8,195.3 189.5,194.7 191.2,193.9 192.8,193.9 194.5,193.9 196.2,193.7 197.8,193.1 199.5,193.2 201.2,193.5 202.8,193.3 204.5,193.4 206.2,193.0 207.8,192.7 209.5,191.6 211.2,191.1 212.8,190.9 214.5,191.2 216.2,191.8 217.8,191.6 219.5,192.2 221.1,192.7 222.8,192.7 224.5,193.2 226.1,193.6 227.8,193.6 229.5,197.6 231.1,197.6 232.8,197.6 234.5,197.5 236.1,197.4 237.8,197.7 239.5,198.0 241.1,198.0 242.8,198.3 244.5,198.8 246.1,198.5 247.8,198.3 249.5,198.1 251.1,197.9 252.8,197.6 254.4,197.1 256.1,196.6 257.8,190.0 259.4,189.7 261.1,189.7 262.8,190.0 264.4,190.0 266.1,189.8 267.8,190.3 269.4,191.0 271.1,191.1 272.8,191.0 274.4,190.9 276.1,191.0 277.8,191.2 279.4,191.5 281.1,191.3 282.8,190.7 284.4,190.5 286.1,190.8 287.7,190.8 289.4,190.9 291.1,190.7 292.7,190.5 294.4,193.0 296.1,192.5 297.7,192.3 299.4,192.1 301.1,192.0 302.7,192.0 304.4,191.9 306.1,191.4 307.7,191.0 309.4,190.9 311.1,190.0 312.7,189.6 314.4,189.6 316.1,190.0 317.7,189.7 319.4,189.0 321.0,189.5 322.7,189.5 324.4,188.9 326.0,189.0 327.7,189.2 329.4,188.7 331.0,187.6 332.7,187.9 334.4,187.7 336.0,187.5 337.7,187.4 339.4,186.6 341.0,186.0 342.7,186.1 344.4,186.2 346.0,186.2 347.7,186.3 349.4,185.9 351.0,185.7 352.7,185.6 354.4,185.8 356.0,185.9 357.7,186.1 359.3,185.7 361.0,185.9 362.7,186.3 364.3,186.2 366.0,183.3 367.7,181.8 369.3,181.9 371.0,182.8 372.7,182.8 374.3,182.7 376.0,182.0 377.7,180.9 379.3,180.2 381.0,179.4 382.7,180.0 384.3,181.0 386.0,181.2 387.7,181.4 389.3,168.7 391.0,168.5 392.6,168.2 394.3,167.8 396.0,167.1 397.6,166.4 399.3,166.3 401.0,159.7 402.6,159.7 404.3,159.2 406.0,158.7 407.6,158.2 409.3,156.8 411.0,156.5 412.6,156.2 414.3,155.3 416.0,154.7 417.6,154.1 419.3,153.1 421.0,152.1 422.6,151.5 424.3,151.0 425.9,150.0 427.6,148.6 429.3,147.8 430.9,146.7 432.6,145.2 434.3,144.3 435.9,143.5 437.6,140.2 439.3,138.6 440.9,138.5 442.6,137.6 444.3,137.3 445.9,136.7 447.6,136.5 449.3,136.5 450.9,135.7 452.6,134.7 454.3,133.2 455.9,130.6 457.6,127.6 459.3,124.3 460.9,120.2 462.6,119.8 464.2,118.8 465.9,117.3 467.6,115.7 469.2,113.1 470.9,110.6 472.6,109.4 474.2,109.7 475.9,109.9 477.6,109.4 479.2,108.9 480.9,107.9 482.6,106.4 484.2,105.3 485.9,103.0 487.6,100.5 489.2,98.2 490.9,95.6 492.6,94.5 494.2,92.5 495.9,90.6 497.5,89.7 499.2,88.7 500.9,87.3 502.5,85.7 504.2,83.7 505.9,81.9 507.5,80.1 509.2,78.3 510.9,77.0 512.5,76.8 514.2,76.4 515.9,75.8 517.5,74.2 519.2,72.9 520.9,72.0 522.5,71.5 524.2,71.0 525.9,69.9 527.5,69.2 529.2,68.8 530.8,70.0 532.5,71.4 534.2,70.8 535.8,68.5 537.5,66.2 539.2,65.7 540.8,65.4 542.5,65.0 544.2,64.1 545.8,63.5 547.5,62.8 549.2,62.0 550.8,62.4 552.5,63.1 554.2,63.4 555.8,63.8 557.5,63.7 559.2,63.6 560.8,63.8 562.5,64.6 564.1,65.9 565.8,66.4 567.5,65.6 569.1,65.7 570.8,66.0 572.5,66.0 574.1,66.0 575.8,65.5 577.5,65.3 579.1,65.3 580.8,64.2 582.5,63.5 584.1,64.0 585.8,64.8 587.5,64.7 589.1,64.6 590.8,64.9 592.5,65.7 594.1,66.2 595.8,66.6 597.5,67.4 599.1,68.0 600.8,68.3 602.4,67.8 604.1,67.3 605.8,66.6 607.4,65.7 609.1,64.5 610.8,63.8 612.4,63.0 614.1,62.2 615.8,62.1 617.4,61.7 619.1,61.4 620.8,60.9 622.4,60.8 624.1,61.0 625.8,61.2 627.4,60.8 629.1,60.0 630.8,59.9 632.4,59.9 634.1,59.8 635.7,60.0 637.4,60.4 639.1,61.3 640.7,61.4 642.4,61.9 644.1,61.9 645.7,62.3 647.4,62.5 649.1,63.1 650.7,63.1 652.4,63.0 654.1,64.0 655.7,64.2 657.4,63.8 659.1,64.2 660.7,64.4 662.4,64.9 664.1,65.5 665.7,66.1 667.4,66.7 669.0,66.9 670.7,66.6 672.4,66.3 674.0,66.2 675.7,66.0 677.4,65.6 679.0,66.2 680.7,66.4 682.4,66.3 684.0,65.8 685.7,66.2 687.4,66.5 689.0,65.1 690.7,63.8 692.4,64.0 694.0,63.4 695.7,63.3 697.4,62.6 699.0,62.1 700.7,69.3 702.3,71.6 704.0,71.5 705.7,71.1 707.3,71.8 709.0,72.6 710.7,72.8 712.3,73.5 714.0,74.3 715.7,75.3 717.3,75.9 719.0,76.4 L719.0,85.6 717.3,85.2 715.7,84.6 714.0,83.8 712.3,83.2 710.7,82.7 709.0,82.7 707.3,82.1 705.7,81.2 704.0,81.0 702.3,80.3 700.7,79.2 699.0,72.6 697.4,73.2 695.7,73.8 694.0,73.8 692.4,74.3 690.7,74.3 689.0,75.4 687.4,76.4 685.7,76.1 684.0,76.1 682.4,76.8 680.7,76.7 679.0,76.6 677.4,76.0 675.7,76.3 674.0,76.4 672.4,76.4 670.7,76.6 669.0,76.6 667.4,76.8 665.7,76.7 664.1,76.5 662.4,76.3 660.7,76.2 659.1,76.1 657.4,75.9 655.7,76.4 654.1,76.3 652.4,75.3 650.7,75.3 649.1,75.0 647.4,74.2 645.7,73.9 644.1,73.5 642.4,73.1 640.7,72.4 639.1,71.6 637.4,70.1 635.7,69.2 634.1,68.5 632.4,68.7 630.8,69.0 629.1,69.3 627.4,70.4 625.8,71.0 624.1,70.4 622.4,69.8 620.8,69.7 619.1,70.2 617.4,71.2 615.8,72.1 614.1,72.6 612.4,73.4 610.8,74.2 609.1,75.0 607.4,76.2 605.8,77.0 604.1,77.7 602.4,78.3 600.8,78.7 599.1,77.6 597.5,76.4 595.8,75.1 594.1,74.5 592.5,74.1 590.8,73.6 589.1,73.7 587.5,73.3 585.8,72.5 584.1,70.7 582.5,70.7 580.8,71.5 579.1,72.5 577.5,72.5 575.8,72.9 574.1,73.9 572.5,74.6 570.8,75.0 569.1,75.2 567.5,75.6 565.8,76.8 564.1,76.1 562.5,74.6 560.8,73.7 559.2,73.4 557.5,73.5 555.8,73.8 554.2,73.3 552.5,72.7 550.8,71.8 549.2,71.2 547.5,72.4 545.8,73.4 544.2,74.4 542.5,75.3 540.8,75.6 539.2,75.7 537.5,76.1 535.8,78.3 534.2,80.6 532.5,81.5 530.8,80.6 529.2,79.8 527.5,80.3 525.9,81.4 524.2,82.7 522.5,83.3 520.9,83.2 519.2,83.1 517.5,84.1 515.9,85.6 514.2,86.3 512.5,86.9 510.9,87.3 509.2,88.6 507.5,90.1 505.9,91.5 504.2,93.1 502.5,95.0 500.9,96.6 499.2,98.0 497.5,98.9 495.9,98.1 494.2,98.3 492.6,100.6 490.9,101.8 489.2,104.6 487.6,107.3 485.9,110.1 484.2,112.6 482.6,113.9 480.9,115.7 479.2,116.9 477.6,117.4 475.9,117.8 474.2,116.9 472.6,115.8 470.9,117.3 469.2,119.3 467.6,120.8 465.9,122.8 464.2,125.0 462.6,127.1 460.9,128.7 459.3,130.7 457.6,133.4 455.9,136.9 454.3,139.8 452.6,140.8 450.9,141.3 449.3,141.8 447.6,141.7 445.9,141.8 444.3,142.3 442.6,142.8 440.9,144.0 439.3,144.5 437.6,145.7 435.9,147.4 434.3,148.5 432.6,149.8 430.9,152.0 429.3,153.7 427.6,155.1 425.9,156.5 424.3,157.2 422.6,157.5 421.0,158.2 419.3,159.0 417.6,159.9 416.0,160.7 414.3,161.6 412.6,162.9 411.0,163.4 409.3,163.8 407.6,165.3 406.0,166.1 404.3,166.9 402.6,167.6 401.0,167.7 399.3,172.4 397.6,172.5 396.0,173.3 394.3,174.1 392.6,174.5 391.0,175.0 389.3,175.3 387.7,187.4 386.0,187.1 384.3,186.7 382.7,185.6 381.0,184.9 379.3,185.7 377.7,186.5 376.0,187.5 374.3,188.3 372.7,188.5 371.0,188.5 369.3,187.9 367.7,188.0 366.0,189.3 364.3,192.8 362.7,192.8 361.0,192.5 359.3,192.2 357.7,192.4 356.0,192.1 354.4,192.0 352.7,191.7 351.0,191.8 349.4,192.0 347.7,192.3 346.0,192.3 344.4,192.3 342.7,192.2 341.0,192.1 339.4,192.7 337.7,193.2 336.0,193.1 334.4,193.1 332.7,193.3 331.0,193.0 329.4,193.9 327.7,194.1 326.0,194.0 324.4,194.0 322.7,194.7 321.0,194.9 319.4,194.5 317.7,195.3 316.1,195.8 314.4,195.7 312.7,195.7 311.1,196.2 309.4,197.0 307.7,197.1 306.1,197.5 304.4,198.0 302.7,198.0 301.1,198.1 299.4,198.2 297.7,198.4 296.1,198.6 294.4,199.0 292.7,196.4 291.1,196.8 289.4,197.0 287.7,196.7 286.1,196.9 284.4,196.7 282.8,197.0 281.1,197.7 279.4,198.1 277.8,197.8 276.1,197.9 274.4,198.2 272.8,198.8 271.1,199.2 269.4,199.6 267.8,199.4 266.1,198.4 264.4,197.6 262.8,197.6 261.1,197.6 259.4,197.9 257.8,198.6 256.1,205.2 254.4,205.5 252.8,205.6 251.1,205.6 249.5,205.5 247.8,205.3 246.1,205.0 244.5,205.2 242.8,205.7 241.1,205.8 239.5,205.7 237.8,205.4 236.1,205.1 234.5,205.0 232.8,205.0 231.1,205.0 229.5,204.9 227.8,201.6 226.1,201.5 224.5,201.0 222.8,200.5 221.1,200.3 219.5,199.6 217.8,198.9 216.2,198.9 214.5,198.3 212.8,197.9 211.2,198.1 209.5,198.5 207.8,199.6 206.2,199.9 204.5,200.1 202.8,200.1 201.2,200.4 199.5,200.3 197.8,200.4 196.2,200.9 194.5,201.0 192.8,200.8 191.2,200.6 189.5,201.7 187.8,202.4 186.2,202.8 184.5,203.8 182.8,204.6 181.2,204.7 179.5,204.5 177.9,204.7 176.2,205.3 174.5,205.8 172.9,206.6 171.2,207.7 169.5,208.4 167.9,209.2 166.2,210.6 164.5,212.0 162.9,212.7 161.2,212.8 159.5,213.5 157.9,214.0 156.2,212.8 154.5,211.5 152.9,210.1 151.2,208.8 149.5,207.9 147.9,208.5 146.2,208.6 144.6,208.4 142.9,209.3 141.2,209.4 139.6,209.4 137.9,209.6 136.2,209.8 134.6,209.2 132.9,209.7 131.2,210.1 129.6,210.0 127.9,210.4 126.2,210.8 124.6,210.9 122.9,211.3 121.2,211.1 119.6,211.5 117.9,213.1 116.2,214.1 114.6,215.1 112.9,215.5 111.3,216.5 109.6,217.0 107.9,217.4 106.3,217.9 104.6,218.2 102.9,218.8 101.3,218.8 99.6,219.3 97.9,219.6 96.3,220.0 94.6,220.6 92.9,229.1 91.3,228.6 89.6,229.3 87.9,230.3 86.3,230.9 84.6,231.4 82.9,232.1 81.3,232.8 79.6,233.1 78.0,233.1 76.3,233.2 74.6,233.7 73.0,234.0 71.3,233.7 69.6,233.9 68.0,234.3 66.3,234.7 64.6,234.9 63.0,234.8 61.3,235.1Z" fill="#a9c6e8"/><path d="M61.3,226.5 63.0,225.0 64.6,224.6 66.3,224.2 68.0,223.6 69.6,223.4 71.3,223.5 73.0,224.2 74.6,224.3 76.3,223.7 78.0,223.5 79.6,223.4 81.3,223.1 82.9,222.4 84.6,221.7 86.3,221.2 87.9,220.7 89.6,219.7 91.3,218.9 92.9,219.4 94.6,210.7 96.3,210.3 97.9,209.8 99.6,209.3 101.3,208.7 102.9,208.8 104.6,208.4 106.3,208.3 107.9,207.6 109.6,207.1 111.3,206.4 112.9,205.3 114.6,204.4 116.2,203.5 117.9,201.5 119.6,199.8 121.2,199.1 122.9,198.7 124.6,198.2 126.2,198.1 127.9,197.9 129.6,197.4 131.2,197.4 132.9,197.0 134.6,196.4 136.2,196.8 137.9,196.6 139.6,196.6 141.2,196.7 142.9,196.7 144.6,195.9 146.2,196.1 147.9,196.0 149.5,195.4 151.2,196.1 152.9,197.0 154.5,198.2 156.2,200.5 157.9,202.0 159.5,202.1 161.2,200.9 162.9,199.9 164.5,199.1 166.2,198.0 167.9,197.1 169.5,196.6 171.2,196.3 172.9,195.5 174.5,194.5 176.2,193.8 177.9,193.0 179.5,192.6 181.2,192.7 182.8,192.5 184.5,191.5 186.2,190.6 187.8,190.3 189.5,189.7 191.2,188.8 192.8,188.8 194.5,188.8 196.2,188.6 197.8,188.1 199.5,188.0 201.2,188.6 202.8,188.7 204.5,189.0 206.2,188.9 207.8,188.8 209.5,187.9 211.2,187.3 212.8,186.8 214.5,186.9 216.2,187.5 217.8,187.4 219.5,188.1 221.1,188.9 222.8,189.1 224.5,189.8 226.1,190.5 227.8,190.5 229.5,194.5 231.1,194.2 232.8,194.0 234.5,193.8 236.1,193.6 237.8,193.9 239.5,194.1 241.1,194.0 242.8,194.4 244.5,195.1 246.1,194.5 247.8,194.0 249.5,193.5 251.1,193.2 252.8,193.0 254.4,192.6 256.1,192.2 257.8,185.3 259.4,184.8 261.1,184.8 262.8,185.0 264.4,185.1 266.1,185.0 267.8,186.1 269.4,187.0 271.1,187.3 272.8,187.1 274.4,186.7 276.1,186.7 277.8,187.1 279.4,187.8 281.1,187.9 282.8,187.7 284.4,186.8 286.1,186.4 287.7,186.3 289.4,186.8 291.1,186.9 292.7,186.8 294.4,188.6 296.1,188.0 297.7,187.7 299.4,187.4 301.1,187.3 302.7,187.3 304.4,187.3 306.1,186.9 307.7,186.6 309.4,186.5 311.1,185.6 312.7,185.2 314.4,185.2 316.1,185.1 317.7,184.8 319.4,184.2 321.0,184.9 322.7,185.0 324.4,184.4 326.0,184.4 327.7,184.6 329.4,184.2 331.0,183.2 332.7,183.5 334.4,183.2 336.0,182.7 337.7,182.6 339.4,181.6 341.0,181.2 342.7,181.6 344.4,181.9 346.0,182.0 347.7,181.8 349.4,181.2 351.0,180.8 352.7,181.2 354.4,181.8 356.0,181.9 357.7,182.1 359.3,181.8 361.0,181.9 362.7,182.3 364.3,182.2 366.0,179.0 367.7,178.3 369.3,178.1 371.0,178.4 372.7,178.2 374.3,177.9 376.0,176.5 377.7,175.4 379.3,175.5 381.0,175.3 382.7,176.1 384.3,177.1 386.0,177.4 387.7,177.6 389.3,165.0 391.0,164.9 392.6,164.5 394.3,164.3 396.0,163.5 397.6,162.7 399.3,162.7 401.0,155.5 402.6,155.8 404.3,155.7 406.0,155.6 407.6,155.5 409.3,154.5 411.0,153.9 412.6,153.2 414.3,152.0 416.0,151.1 417.6,150.1 419.3,149.0 421.0,148.1 422.6,147.4 424.3,146.9 425.9,146.0 427.6,144.6 429.3,143.8 430.9,142.7 432.6,141.2 434.3,140.3 435.9,139.3 437.6,134.6 439.3,134.0 440.9,134.2 442.6,133.7 444.3,133.2 445.9,132.3 447.6,131.8 449.3,131.4 450.9,130.8 452.6,130.3 454.3,129.2 455.9,126.5 457.6,123.2 459.3,119.7 460.9,115.6 462.6,115.2 464.2,114.3 465.9,112.8 467.6,111.2 469.2,108.6 470.9,106.4 472.6,105.6 474.2,105.6 475.9,105.8 477.6,105.5 479.2,105.2 480.9,104.2 482.6,102.6 484.2,101.5 485.9,99.3 487.6,96.8 489.2,94.4 490.9,91.8 492.6,90.3 494.2,87.9 495.9,86.2 497.5,85.8 499.2,85.3 500.9,83.6 502.5,81.4 504.2,78.9 505.9,76.9 507.5,75.1 509.2,73.3 510.9,72.2 512.5,72.2 514.2,72.0 515.9,70.1 517.5,66.6 519.2,65.3 520.9,64.6 522.5,64.2 524.2,64.0 525.9,63.3 527.5,62.8 529.2,62.8 530.8,64.4 532.5,66.1 534.2,65.6 535.8,62.7 537.5,60.0 539.2,59.3 540.8,58.9 542.5,58.2 544.2,57.2 545.8,56.5 547.5,55.7 549.2,54.8 550.8,55.4 552.5,56.2 554.2,56.7 555.8,57.3 557.5,57.3 559.2,57.4 560.8,57.8 562.5,58.7 564.1,60.2 565.8,60.8 567.5,60.0 569.1,60.1 570.8,60.4 572.5,60.5 574.1,60.8 575.8,60.6 577.5,59.6 579.1,60.3 580.8,58.6 582.5,57.3 584.1,58.2 585.8,59.3 587.5,59.6 589.1,59.7 590.8,59.9 592.5,60.4 594.1,60.8 595.8,61.2 597.5,62.1 599.1,62.9 600.8,63.5 602.4,62.7 604.1,62.0 605.8,61.2 607.4,60.3 609.1,58.9 610.8,57.9 612.4,57.0 614.1,56.0 615.8,55.9 617.4,55.6 619.1,55.3 620.8,54.8 622.4,54.6 624.1,54.8 625.8,55.1 627.4,54.6 629.1,53.8 630.8,53.8 632.4,53.7 634.1,53.6 635.7,53.9 637.4,54.3 639.1,55.2 640.7,55.3 642.4,55.9 644.1,56.1 645.7,56.7 647.4,56.9 649.1,57.5 650.7,57.6 652.4,57.5 654.1,58.6 655.7,58.7 657.4,58.3 659.1,58.7 660.7,58.9 662.4,59.4 664.1,60.1 665.7,60.6 667.4,61.2 669.0,61.4 670.7,61.1 672.4,60.9 674.0,60.8 675.7,60.5 677.4,60.1 679.0,60.7 680.7,60.9 682.4,60.8 684.0,60.6 685.7,61.7 687.4,62.2 689.0,60.5 690.7,59.0 692.4,58.7 694.0,57.9 695.7,57.8 697.4,57.1 699.0,56.6 700.7,65.1 702.3,67.4 704.0,67.4 705.7,66.9 707.3,67.5 709.0,68.1 710.7,68.1 712.3,68.9 714.0,69.9 715.7,71.1 717.3,71.8 719.0,72.2 L719.0,76.8 717.3,76.3 715.7,75.7 714.0,74.7 712.3,73.9 710.7,73.2 709.0,73.0 707.3,72.2 705.7,71.5 704.0,71.9 702.3,72.0 700.7,69.7 699.0,62.5 697.4,63.0 695.7,63.7 694.0,63.8 692.4,64.4 690.7,64.2 689.0,65.5 687.4,66.9 685.7,66.6 684.0,66.2 682.4,66.7 680.7,66.8 679.0,66.6 677.4,66.0 675.7,66.4 674.0,66.6 672.4,66.7 670.7,67.0 669.0,67.3 667.4,67.1 665.7,66.5 664.1,65.9 662.4,65.3 660.7,64.8 659.1,64.6 657.4,64.2 655.7,64.6 654.1,64.4 652.4,63.4 650.7,63.5 649.1,63.5 647.4,62.9 645.7,62.7 644.1,62.3 642.4,62.3 640.7,61.8 639.1,61.7 637.4,60.8 635.7,60.4 634.1,60.2 632.4,60.3 630.8,60.3 629.1,60.4 627.4,61.2 625.8,61.6 624.1,61.4 622.4,61.2 620.8,61.3 619.1,61.8 617.4,62.1 615.8,62.5 614.1,62.6 612.4,63.4 610.8,64.2 609.1,64.9 607.4,66.1 605.8,67.0 604.1,67.7 602.4,68.2 600.8,68.7 599.1,68.4 597.5,67.8 595.8,67.0 594.1,66.6 592.5,66.1 590.8,65.3 589.1,65.0 587.5,65.1 585.8,65.2 584.1,64.4 582.5,63.9 580.8,64.6 579.1,65.7 577.5,65.7 575.8,65.9 574.1,66.4 572.5,66.4 570.8,66.4 569.1,66.1 567.5,66.0 565.8,66.8 564.1,66.3 562.5,65.0 560.8,64.2 559.2,64.0 557.5,64.1 555.8,64.2 554.2,63.8 552.5,63.5 550.8,62.8 549.2,62.4 547.5,63.2 545.8,63.9 544.2,64.5 542.5,65.4 540.8,65.8 539.2,66.1 537.5,66.6 535.8,68.9 534.2,71.2 532.5,71.8 530.8,70.4 529.2,69.2 527.5,69.6 525.9,70.3 524.2,71.4 522.5,71.9 520.9,72.4 519.2,73.3 517.5,74.6 515.9,76.2 514.2,76.8 512.5,77.2 510.9,77.4 509.2,78.7 507.5,80.5 505.9,82.3 504.2,84.1 502.5,86.1 500.9,87.7 499.2,89.1 497.5,90.1 495.9,91.0 494.2,92.9 492.6,94.9 490.9,96.0 489.2,98.6 487.6,100.9 485.9,103.4 484.2,105.7 482.6,106.8 480.9,108.3 479.2,109.3 477.6,109.8 475.9,110.3 474.2,110.1 472.6,109.8 470.9,111.0 469.2,113.5 467.6,116.1 465.9,117.7 464.2,119.2 462.6,120.2 460.9,120.6 459.3,124.7 457.6,128.0 455.9,131.0 454.3,133.6 452.6,135.1 450.9,136.1 449.3,136.9 447.6,136.9 445.9,137.1 444.3,137.7 442.6,138.0 440.9,138.9 439.3,139.0 437.6,140.6 435.9,143.9 434.3,144.7 432.6,145.6 430.9,147.1 429.3,148.2 427.6,149.0 425.9,150.4 424.3,151.4 422.6,151.9 421.0,152.5 419.3,153.5 417.6,154.5 416.0,155.1 414.3,155.7 412.6,156.6 411.0,156.9 409.3,157.2 407.6,158.6 406.0,159.1 404.3,159.6 402.6,160.1 401.0,160.1 399.3,166.7 397.6,166.8 396.0,167.5 394.3,168.2 392.6,168.6 391.0,168.9 389.3,169.1 387.7,181.8 386.0,181.6 384.3,181.4 382.7,180.4 381.0,179.8 379.3,180.6 377.7,181.3 376.0,182.4 374.3,183.1 372.7,183.2 371.0,183.2 369.3,182.3 367.7,182.2 366.0,183.7 364.3,186.6 362.7,186.7 361.0,186.3 359.3,186.1 357.7,186.5 356.0,186.3 354.4,186.2 352.7,186.0 351.0,186.1 349.4,186.3 347.7,186.7 346.0,186.6 344.4,186.6 342.7,186.5 341.0,186.4 339.4,187.0 337.7,187.8 336.0,187.9 334.4,188.1 332.7,188.3 331.0,188.0 329.4,189.1 327.7,189.6 326.0,189.4 324.4,189.3 322.7,189.9 321.0,189.9 319.4,189.4 317.7,190.1 316.1,190.4 314.4,190.0 312.7,190.0 311.1,190.4 309.4,191.3 307.7,191.4 306.1,191.8 304.4,192.3 302.7,192.4 301.1,192.4 299.4,192.5 297.7,192.7 296.1,192.9 294.4,193.4 292.7,190.9 291.1,191.1 289.4,191.3 287.7,191.2 286.1,191.2 284.4,190.9 282.8,191.1 281.1,191.7 279.4,191.9 277.8,191.6 276.1,191.4 274.4,191.3 272.8,191.4 271.1,191.5 269.4,191.4 267.8,190.7 266.1,190.2 264.4,190.4 262.8,190.4 261.1,190.1 259.4,190.1 257.8,190.4 256.1,197.0 254.4,197.5 252.8,198.0 251.1,198.3 249.5,198.5 247.8,198.7 246.1,198.9 244.5,199.2 242.8,198.7 241.1,198.4 239.5,198.4 237.8,198.1 236.1,197.8 234.5,197.9 232.8,198.0 231.1,198.0 229.5,198.0 227.8,194.0 226.1,194.0 224.5,193.6 222.8,193.1 221.1,193.1 219.5,192.6 217.8,192.0 216.2,192.2 214.5,191.6 212.8,191.3 211.2,191.5 209.5,192.0 207.8,193.1 206.2,193.4 204.5,193.8 202.8,193.7 201.2,193.9 199.5,193.6 197.8,193.5 196.2,194.1 194.5,194.3 192.8,194.3 191.2,194.3 189.5,195.1 187.8,195.7 186.2,196.0 184.5,196.9 182.8,197.9 181.2,198.0 179.5,197.9 177.9,198.2 176.2,198.9 174.5,199.5 172.9,200.3 171.2,201.4 169.5,201.9 167.9,202.6 166.2,203.8 164.5,205.1 162.9,205.7 161.2,205.5 159.5,206.5 157.9,207.6 156.2,206.1 154.5,204.7 152.9,203.5 151.2,202.2 149.5,201.3 147.9,201.8 146.2,201.9 144.6,201.6 142.9,202.5 141.2,202.6 139.6,202.6 137.9,202.8 136.2,203.0 134.6,202.5 132.9,203.0 131.2,203.4 129.6,203.3 127.9,203.7 126.2,204.0 124.6,204.0 122.9,204.4 121.2,204.9 119.6,205.6 117.9,207.5 116.2,209.7 114.6,210.5 112.9,211.4 111.3,212.5 109.6,212.9 107.9,213.2 106.3,213.7 104.6,214.0 102.9,214.6 101.3,214.7 99.6,215.4 97.9,216.0 96.3,216.6 94.6,217.5 92.9,224.9 91.3,224.4 89.6,225.1 87.9,226.2 86.3,226.7 84.6,227.1 82.9,227.9 81.3,228.7 79.6,228.9 78.0,228.8 76.3,228.9 74.6,229.5 73.0,229.8 71.3,229.4 69.6,229.6 68.0,230.0 66.3,230.6 64.6,231.0 63.0,230.9 61.3,231.3Z" fill="#d4e39c"/><path d="M61.3,225.4 63.0,223.9 64.6,223.5 66.3,223.1 68.0,222.5 69.6,222.4 71.3,222.4 73.0,223.2 74.6,223.3 76.3,222.7 78.0,222.4 79.6,222.4 81.3,222.1 82.9,221.4 84.6,220.6 86.3,220.1 87.9,219.7 89.6,218.6 91.3,217.9 92.9,218.4 94.6,209.7 96.3,209.3 97.9,208.7 99.6,208.2 101.3,207.7 102.9,207.8 104.6,207.3 106.3,207.2 107.9,206.6 109.6,206.1 111.3,205.4 112.9,204.2 114.6,203.4 116.2,202.5 117.9,200.5 119.6,198.8 121.2,198.0 122.9,197.6 124.6,197.2 126.2,197.1 127.9,196.8 129.6,196.4 131.2,196.4 132.9,195.9 134.6,195.4 136.2,195.8 137.9,195.6 139.6,195.5 141.2,195.7 142.9,195.6 144.6,194.9 146.2,195.1 147.9,195.0 149.5,194.4 151.2,195.0 152.9,195.9 154.5,197.2 156.2,199.4 157.9,200.9 159.5,201.1 161.2,199.8 162.9,198.8 164.5,198.0 166.2,196.9 167.9,196.0 169.5,195.6 171.2,195.3 172.9,194.4 174.5,193.4 176.2,192.7 177.9,192.0 179.5,191.6 181.2,191.7 182.8,191.5 184.5,190.5 186.2,189.5 187.8,189.2 189.5,188.6 191.2,187.8 192.8,187.8 194.5,187.8 196.2,187.6 197.8,187.0 199.5,186.9 201.2,187.6 202.8,187.7 204.5,188.0 206.2,187.8 207.8,187.7 209.5,186.8 211.2,186.3 212.8,185.7 214.5,185.8 216.2,186.4 217.8,186.3 219.5,187.1 221.1,187.8 222.8,188.0 224.5,188.7 226.1,189.4 227.8,189.5 229.5,193.4 231.1,193.2 232.8,193.0 234.5,192.8 236.1,192.6 237.8,192.8 239.5,193.1 241.1,192.9 242.8,193.4 244.5,194.0 246.1,193.5 247.8,192.9 249.5,192.4 251.1,192.1 252.8,191.9 254.4,191.5 256.1,191.1 257.8,184.2 259.4,183.8 261.1,183.7 262.8,184.0 264.4,184.0 266.1,184.0 267.8,185.1 269.4,186.0 271.1,186.3 272.8,186.0 274.4,185.7 276.1,185.6 277.8,186.0 279.4,186.8 281.1,186.9 282.8,186.7 284.4,185.8 286.1,185.3 287.7,185.2 289.4,185.7 291.1,185.8 292.7,185.7 294.4,187.6 296.1,187.0 297.7,186.6 299.4,186.4 301.1,186.2 302.7,186.3 304.4,186.3 306.1,185.9 307.7,185.5 309.4,185.4 311.1,184.6 312.7,184.1 314.4,184.2 316.1,184.1 317.7,183.7 319.4,183.2 321.0,183.9 322.7,184.0 324.4,183.3 326.0,183.3 327.7,183.6 329.4,183.1 331.0,182.1 332.7,182.5 334.4,182.1 336.0,181.7 337.7,181.5 339.4,180.6 341.0,180.2 342.7,180.5 344.4,180.8 346.0,180.9 347.7,180.8 349.4,180.1 351.0,179.8 352.7,180.1 354.4,180.7 356.0,180.8 357.7,181.0 359.3,180.7 361.0,180.9 362.7,181.2 364.3,181.2 366.0,177.9 367.7,177.3 369.3,177.1 371.0,177.4 372.7,177.1 374.3,176.8 376.0,175.4 377.7,174.4 379.3,174.5 381.0,174.2 382.7,175.0 384.3,176.0 386.0,176.3 387.7,176.6 389.3,163.9 391.0,163.8 392.6,163.4 394.3,163.2 396.0,162.4 397.6,161.7 399.3,161.6 401.0,154.4 402.6,154.7 404.3,154.6 406.0,154.5 407.6,154.4 409.3,153.4 411.0,152.8 412.6,152.1 414.3,150.9 416.0,150.0 417.6,149.0 419.3,147.9 421.0,146.9 422.6,146.2 424.3,145.7 425.9,144.8 427.6,143.4 429.3,142.6 430.9,141.6 432.6,140.0 434.3,139.1 435.9,138.1 437.6,133.4 439.3,132.8 440.9,133.0 442.6,132.5 444.3,132.0 445.9,131.1 447.6,130.6 449.3,130.1 450.9,129.6 452.6,129.1 454.3,128.0 455.9,125.3 457.6,121.9 459.3,118.4 460.9,114.3 462.6,113.9 464.2,113.0 465.9,111.5 467.6,110.0 469.2,107.4 470.9,105.1 472.6,104.3 474.2,104.3 475.9,104.5 477.6,104.2 479.2,103.9 480.9,102.9 482.6,101.3 484.2,100.2 485.9,98.0 487.6,95.5 489.2,93.1 490.9,90.5 492.6,89.0 494.2,86.6 495.9,84.9 497.5,84.5 499.2,84.0 500.9,82.3 502.5,80.1 504.2,77.6 505.9,75.6 507.5,73.8 509.2,72.0 510.9,70.9 512.5,70.9 514.2,70.7 515.9,68.8 517.5,65.3 519.2,64.0 520.9,63.3 522.5,62.9 524.2,62.7 525.9,62.0 527.5,61.5 529.2,61.5 530.8,63.1 532.5,64.8 534.2,64.3 535.8,61.4 537.5,58.7 539.2,58.0 540.8,57.6 542.5,56.9 544.2,55.9 545.8,55.2 547.5,54.3 549.2,53.5 550.8,54.0 552.5,54.9 554.2,55.4 555.8,56.0 557.5,56.0 559.2,56.1 560.8,56.5 562.5,57.4 564.1,58.8 565.8,59.5 567.5,58.7 569.1,58.8 570.8,59.1 572.5,59.2 574.1,59.5 575.8,59.3 577.5,58.3 579.1,59.0 580.8,57.3 582.5,56.0 584.1,56.9 585.8,58.0 587.5,58.3 589.1,58.4 590.8,58.5 592.5,59.1 594.1,59.5 595.8,59.9 597.5,60.8 599.1,61.6 600.8,62.1 602.4,61.4 604.1,60.7 605.8,59.9 607.4,58.9 609.1,57.5 610.8,56.6 612.4,55.7 614.1,54.7 615.8,54.6 617.4,54.2 619.1,53.9 620.8,53.5 622.4,53.3 624.1,53.5 625.8,53.8 627.4,53.3 629.1,52.5 630.8,52.4 632.4,52.4 634.1,52.3 635.7,52.6 637.4,53.0 639.1,53.9 640.7,54.0 642.4,54.6 644.1,54.8 645.7,55.3 647.4,55.6 649.1,56.2 650.7,56.3 652.4,56.2 654.1,57.2 655.7,57.4 657.4,57.0 659.1,57.3 660.7,57.6 662.4,58.0 664.1,58.7 665.7,59.3 667.4,59.9 669.0,60.0 670.7,59.8 672.4,59.5 674.0,59.4 675.7,59.2 677.4,58.8 679.0,59.4 680.7,59.6 682.4,59.5 684.0,59.2 685.7,60.3 687.4,60.8 689.0,59.2 690.7,57.6 692.4,57.4 694.0,56.5 695.7,56.5 697.4,55.8 699.0,55.3 700.7,63.7 702.3,66.1 704.0,66.0 705.7,65.5 707.3,66.1 709.0,66.8 710.7,66.8 712.3,67.5 714.0,68.6 715.7,69.7 717.3,70.4 719.0,70.9 L719.0,72.6 717.3,72.2 715.7,71.5 714.0,70.3 712.3,69.3 710.7,68.5 709.0,68.5 707.3,67.9 705.7,67.3 704.0,67.8 702.3,67.8 700.7,65.5 699.0,57.0 697.4,57.5 695.7,58.2 694.0,58.3 692.4,59.1 690.7,59.4 689.0,60.9 687.4,62.6 685.7,62.1 684.0,61.0 682.4,61.2 680.7,61.3 679.0,61.1 677.4,60.5 675.7,60.9 674.0,61.2 672.4,61.3 670.7,61.5 669.0,61.8 667.4,61.6 665.7,61.0 664.1,60.5 662.4,59.8 660.7,59.3 659.1,59.1 657.4,58.7 655.7,59.1 654.1,59.0 652.4,57.9 650.7,58.0 649.1,57.9 647.4,57.3 645.7,57.1 644.1,56.5 642.4,56.3 640.7,55.7 639.1,55.6 637.4,54.7 635.7,54.3 634.1,54.0 632.4,54.1 630.8,54.2 629.1,54.2 627.4,55.0 625.8,55.5 624.1,55.2 622.4,55.0 620.8,55.2 619.1,55.7 617.4,56.0 615.8,56.3 614.1,56.4 612.4,57.4 610.8,58.3 609.1,59.3 607.4,60.7 605.8,61.6 604.1,62.4 602.4,63.1 600.8,63.9 599.1,63.3 597.5,62.5 595.8,61.6 594.1,61.2 592.5,60.8 590.8,60.3 589.1,60.1 587.5,60.0 585.8,59.7 584.1,58.6 582.5,57.7 580.8,59.0 579.1,60.7 577.5,60.0 575.8,61.0 574.1,61.2 572.5,60.9 570.8,60.8 569.1,60.5 567.5,60.4 565.8,61.2 564.1,60.6 562.5,59.1 560.8,58.2 559.2,57.8 557.5,57.7 555.8,57.7 554.2,57.1 552.5,56.6 550.8,55.8 549.2,55.2 547.5,56.1 545.8,56.9 544.2,57.6 542.5,58.6 540.8,59.3 539.2,59.7 537.5,60.4 535.8,63.1 534.2,66.0 532.5,66.5 530.8,64.8 529.2,63.2 527.5,63.2 525.9,63.7 524.2,64.4 522.5,64.6 520.9,65.0 519.2,65.7 517.5,67.0 515.9,70.5 514.2,72.4 512.5,72.6 510.9,72.6 509.2,73.7 507.5,75.5 505.9,77.3 504.2,79.3 502.5,81.8 500.9,84.0 499.2,85.7 497.5,86.2 495.9,86.6 494.2,88.3 492.6,90.7 490.9,92.2 489.2,94.8 487.6,97.2 485.9,99.7 484.2,101.9 482.6,103.0 480.9,104.6 479.2,105.6 477.6,105.9 475.9,106.2 474.2,106.0 472.6,106.0 470.9,106.8 469.2,109.0 467.6,111.6 465.9,113.2 464.2,114.7 462.6,115.6 460.9,116.0 459.3,120.1 457.6,123.6 455.9,126.9 454.3,129.6 452.6,130.7 450.9,131.2 449.3,131.8 447.6,132.2 445.9,132.7 444.3,133.6 442.6,134.1 440.9,134.6 439.3,134.4 437.6,135.0 435.9,139.7 434.3,140.7 432.6,141.6 430.9,143.1 429.3,144.2 427.6,145.0 425.9,146.4 424.3,147.3 422.6,147.8 421.0,148.5 419.3,149.4 417.6,150.5 416.0,151.5 414.3,152.4 412.6,153.6 411.0,154.3 409.3,154.9 407.6,155.9 406.0,156.0 404.3,156.1 402.6,156.2 401.0,155.9 399.3,163.1 397.6,163.1 396.0,163.9 394.3,164.7 392.6,164.9 391.0,165.3 389.3,165.4 387.7,178.0 386.0,177.8 384.3,177.5 382.7,176.5 381.0,175.7 379.3,175.9 377.7,175.8 376.0,176.9 374.3,178.3 372.7,178.6 371.0,178.8 369.3,178.5 367.7,178.7 366.0,179.4 364.3,182.6 362.7,182.7 361.0,182.3 359.3,182.2 357.7,182.5 356.0,182.3 354.4,182.2 352.7,181.6 351.0,181.2 349.4,181.6 347.7,182.2 346.0,182.4 344.4,182.3 342.7,182.0 341.0,181.6 339.4,182.0 337.7,183.0 336.0,183.1 334.4,183.6 332.7,183.9 331.0,183.6 329.4,184.6 327.7,185.0 326.0,184.8 324.4,184.8 322.7,185.4 321.0,185.3 319.4,184.6 317.7,185.2 316.1,185.5 314.4,185.6 312.7,185.6 311.1,186.0 309.4,186.9 307.7,187.0 306.1,187.3 304.4,187.7 302.7,187.7 301.1,187.7 299.4,187.8 297.7,188.1 296.1,188.4 294.4,189.0 292.7,187.2 291.1,187.3 289.4,187.2 287.7,186.7 286.1,186.8 284.4,187.2 282.8,188.1 281.1,188.3 279.4,188.2 277.8,187.5 276.1,187.1 274.4,187.1 272.8,187.5 271.1,187.7 269.4,187.4 267.8,186.5 266.1,185.4 264.4,185.5 262.8,185.4 261.1,185.2 259.4,185.2 257.8,185.7 256.1,192.6 254.4,193.0 252.8,193.4 251.1,193.6 249.5,193.9 247.8,194.4 246.1,194.9 244.5,195.5 242.8,194.8 241.1,194.4 239.5,194.5 237.8,194.3 236.1,194.0 234.5,194.2 232.8,194.4 231.1,194.6 229.5,194.9 227.8,190.9 226.1,190.9 224.5,190.2 222.8,189.5 221.1,189.3 219.5,188.5 217.8,187.8 216.2,187.9 214.5,187.3 212.8,187.2 211.2,187.7 209.5,188.3 207.8,189.2 206.2,189.3 204.5,189.4 202.8,189.1 201.2,189.0 199.5,188.4 197.8,188.5 196.2,189.0 194.5,189.2 192.8,189.2 191.2,189.2 189.5,190.1 187.8,190.7 186.2,191.0 184.5,191.9 182.8,192.9 181.2,193.1 179.5,193.0 177.9,193.4 176.2,194.2 174.5,194.9 172.9,195.9 171.2,196.7 169.5,197.0 167.9,197.5 166.2,198.4 164.5,199.5 162.9,200.3 161.2,201.3 159.5,202.5 157.9,202.4 156.2,200.9 154.5,198.6 152.9,197.4 151.2,196.5 149.5,195.8 147.9,196.4 146.2,196.5 144.6,196.3 142.9,197.1 141.2,197.1 139.6,197.0 137.9,197.0 136.2,197.2 134.6,196.8 132.9,197.4 131.2,197.8 129.6,197.8 127.9,198.3 126.2,198.5 124.6,198.6 122.9,199.1 121.2,199.5 119.6,200.2 117.9,201.9 116.2,203.9 114.6,204.8 112.9,205.7 111.3,206.8 109.6,207.5 107.9,208.0 106.3,208.7 104.6,208.8 102.9,209.2 101.3,209.1 99.6,209.7 97.9,210.2 96.3,210.7 94.6,211.1 92.9,219.8 91.3,219.3 89.6,220.1 87.9,221.1 86.3,221.6 84.6,222.1 82.9,222.8 81.3,223.5 79.6,223.8 78.0,223.9 76.3,224.1 74.6,224.7 73.0,224.6 71.3,223.9 69.6,223.8 68.0,224.0 66.3,224.6 64.6,225.0 63.0,225.4 61.3,226.9Z" fill="#e8c0c0"/><path d="M61.3,225.2 63.0,223.7 64.6,223.3 66.3,222.9 68.0,222.3 69.6,222.2 71.3,222.2 73.0,223.0 74.6,223.1 76.3,222.5 78.0,222.2 79.6,222.2 81.3,221.9 82.9,221.2 84.6,220.4 86.3,219.9 87.9,219.5 89.6,218.4 91.3,217.7 92.9,218.2 94.6,209.5 96.3,209.1 97.9,208.5 99.6,208.0 101.3,207.5 102.9,207.6 104.6,207.1 106.3,207.0 107.9,206.4 109.6,205.9 111.3,205.2 112.9,204.0 114.6,203.2 116.2,202.3 117.9,200.3 119.6,198.6 121.2,197.8 122.9,197.4 124.6,197.0 126.2,196.9 127.9,196.6 129.6,196.2 131.2,196.2 132.9,195.7 134.6,195.2 136.2,195.6 137.9,195.4 139.6,195.3 141.2,195.5 142.9,195.4 144.6,194.7 146.2,194.9 147.9,194.8 149.5,194.2 151.2,194.8 152.9,195.7 154.5,197.0 156.2,199.2 157.9,200.7 159.5,200.9 161.2,199.6 162.9,198.6 164.5,197.8 166.2,196.7 167.9,195.8 169.5,195.4 171.2,195.1 172.9,194.2 174.5,193.2 176.2,192.5 177.9,191.8 179.5,191.4 181.2,191.5 182.8,191.3 184.5,190.3 186.2,189.3 187.8,189.0 189.5,188.4 191.2,187.6 192.8,187.6 194.5,187.6 196.2,187.4 197.8,186.8 199.5,186.7 201.2,187.4 202.8,187.5 204.5,187.8 206.2,187.6 207.8,187.5 209.5,186.6 211.2,186.1 212.8,185.5 214.5,185.6 216.2,186.2 217.8,186.1 219.5,186.9 221.1,187.6 222.8,187.8 224.5,188.5 226.1,189.2 227.8,189.3 229.5,193.2 231.1,193.0 232.8,192.8 234.5,192.6 236.1,192.4 237.8,192.6 239.5,192.9 241.1,192.7 242.8,193.2 244.5,193.8 246.1,193.2 247.8,192.7 249.5,192.2 251.1,191.9 252.8,191.7 254.4,191.3 256.1,190.9 257.8,184.0 259.4,183.6 261.1,183.5 262.8,183.8 264.4,183.8 266.1,183.8 267.8,184.9 269.4,185.8 271.1,186.0 272.8,185.8 274.4,185.5 276.1,185.4 277.8,185.8 279.4,186.5 281.1,186.6 282.8,186.4 284.4,185.5 286.1,185.1 287.7,185.0 289.4,185.5 291.1,185.6 292.7,185.5 294.4,187.3 296.1,186.8 297.7,186.4 299.4,186.1 301.1,186.0 302.7,186.1 304.4,186.1 306.1,185.7 307.7,185.3 309.4,185.2 311.1,184.4 312.7,183.9 314.4,183.9 316.1,183.9 317.7,183.5 319.4,183.0 321.0,183.6 322.7,183.7 324.4,183.1 326.0,183.1 327.7,183.4 329.4,182.9 331.0,181.9 332.7,182.2 334.4,181.9 336.0,181.5 337.7,181.3 339.4,180.4 341.0,179.9 342.7,180.3 344.4,180.6 346.0,180.7 347.7,180.5 349.4,179.9 351.0,179.5 352.7,179.9 354.4,180.5 356.0,180.6 357.7,180.8 359.3,180.5 361.0,180.6 362.7,181.0 364.3,180.9 366.0,177.7 367.7,177.0 369.3,176.8 371.0,177.1 372.7,176.9 374.3,176.6 376.0,175.2 377.7,174.1 379.3,174.2 381.0,174.0 382.7,174.7 384.3,175.8 386.0,176.1 387.7,176.3 389.3,163.7 391.0,163.5 392.6,163.2 394.3,162.9 396.0,162.1 397.6,161.3 399.3,161.3 401.0,154.1 402.6,154.4 404.3,154.3 406.0,154.2 407.6,154.0 409.3,153.0 411.0,152.4 412.6,151.7 414.3,150.5 416.0,149.6 417.6,148.6 419.3,147.5 421.0,146.5 422.6,145.8 424.3,145.3 425.9,144.4 427.6,143.0 429.3,142.2 430.9,141.1 432.6,139.6 434.3,138.7 435.9,137.7 437.6,133.0 439.3,132.4 440.9,132.5 442.6,132.0 444.3,131.5 445.9,130.6 447.6,130.1 449.3,129.6 450.9,129.1 452.6,128.6 454.3,127.5 455.9,124.7 457.6,121.4 459.3,117.9 460.9,113.8 462.6,113.4 464.2,112.5 465.9,111.0 467.6,109.4 469.2,106.8 470.9,104.6 472.6,103.7 474.2,103.7 475.9,103.9 477.6,103.6 479.2,103.3 480.9,102.3 482.6,100.7 484.2,99.6 485.9,97.3 487.6,94.9 489.2,92.5 490.9,89.9 492.6,88.4 494.2,86.0 495.9,84.3 497.5,83.9 499.2,83.4 500.9,81.6 502.5,79.5 504.2,77.0 505.9,74.9 507.5,73.2 509.2,71.4 510.9,70.3 512.5,70.3 514.2,70.1 515.9,68.1 517.5,64.6 519.2,63.3 520.9,62.6 522.5,62.3 524.2,62.1 525.9,61.3 527.5,60.8 529.2,60.8 530.8,62.4 532.5,64.2 534.2,63.7 535.8,60.8 537.5,58.0 539.2,57.4 540.8,56.9 542.5,56.3 544.2,55.3 545.8,54.5 547.5,53.7 549.2,52.9 550.8,53.4 552.5,54.3 554.2,54.8 555.8,55.4 557.5,55.4 559.2,55.4 560.8,55.8 562.5,56.7 564.1,58.2 565.8,58.8 567.5,58.0 569.1,58.1 570.8,58.5 572.5,58.5 574.1,58.8 575.8,58.7 577.5,57.7 579.1,58.3 580.8,56.6 582.5,55.3 584.1,56.2 585.8,57.4 587.5,57.6 589.1,57.7 590.8,57.9 592.5,58.4 594.1,58.8 595.8,59.2 597.5,60.1 599.1,60.9 600.8,61.5 602.4,60.7 604.1,60.0 605.8,59.2 607.4,58.2 609.1,56.9 610.8,55.9 612.4,55.0 614.1,54.0 615.8,53.9 617.4,53.5 619.1,53.2 620.8,52.8 622.4,52.6 624.1,52.8 625.8,53.1 627.4,52.6 629.1,51.8 630.8,51.7 632.4,51.7 634.1,51.6 635.7,51.9 637.4,52.3 639.1,53.2 640.7,53.3 642.4,53.9 644.1,54.1 645.7,54.6 647.4,54.9 649.1,55.5 650.7,55.6 652.4,55.5 654.1,56.5 655.7,56.7 657.4,56.3 659.1,56.6 660.7,56.8 662.4,57.3 664.1,58.0 665.7,58.6 667.4,59.2 669.0,59.3 670.7,59.1 672.4,58.8 674.0,58.7 675.7,58.5 677.4,58.1 679.0,58.7 680.7,58.8 682.4,58.8 684.0,58.5 685.7,59.6 687.4,60.1 689.0,58.5 690.7,56.9 692.4,56.7 694.0,55.8 695.7,55.7 697.4,55.1 699.0,54.6 700.7,63.0 702.3,65.3 704.0,65.3 705.7,64.8 707.3,65.4 709.0,66.0 710.7,66.0 712.3,66.8 714.0,67.8 715.7,69.0 717.3,69.7 719.0,70.1 L719.0,71.3 717.3,70.8 715.7,70.1 714.0,69.0 712.3,67.9 710.7,67.2 709.0,67.2 707.3,66.5 705.7,65.9 704.0,66.4 702.3,66.5 700.7,64.1 699.0,55.7 697.4,56.2 695.7,56.9 694.0,56.9 692.4,57.8 690.7,58.0 689.0,59.6 687.4,61.2 685.7,60.7 684.0,59.6 682.4,59.9 680.7,60.0 679.0,59.8 677.4,59.2 675.7,59.6 674.0,59.8 672.4,59.9 670.7,60.2 669.0,60.4 667.4,60.3 665.7,59.7 664.1,59.1 662.4,58.4 660.7,58.0 659.1,57.7 657.4,57.4 655.7,57.8 654.1,57.6 652.4,56.6 650.7,56.7 649.1,56.6 647.4,56.0 645.7,55.7 644.1,55.2 642.4,55.0 640.7,54.4 639.1,54.3 637.4,53.4 635.7,53.0 634.1,52.7 632.4,52.8 630.8,52.8 629.1,52.9 627.4,53.7 625.8,54.2 624.1,53.9 622.4,53.7 620.8,53.9 619.1,54.3 617.4,54.6 615.8,55.0 614.1,55.1 612.4,56.1 610.8,57.0 609.1,57.9 607.4,59.3 605.8,60.3 604.1,61.1 602.4,61.8 600.8,62.5 599.1,62.0 597.5,61.2 595.8,60.3 594.1,59.9 592.5,59.5 590.8,58.9 589.1,58.8 587.5,58.7 585.8,58.4 584.1,57.3 582.5,56.4 580.8,57.7 579.1,59.4 577.5,58.7 575.8,59.7 574.1,59.9 572.5,59.6 570.8,59.5 569.1,59.2 567.5,59.1 565.8,59.9 564.1,59.2 562.5,57.8 560.8,56.9 559.2,56.5 557.5,56.4 555.8,56.4 554.2,55.8 552.5,55.3 550.8,54.4 549.2,53.9 547.5,54.7 545.8,55.6 544.2,56.3 542.5,57.3 540.8,58.0 539.2,58.4 537.5,59.1 535.8,61.8 534.2,64.7 532.5,65.2 530.8,63.5 529.2,61.9 527.5,61.9 525.9,62.4 524.2,63.1 522.5,63.3 520.9,63.7 519.2,64.4 517.5,65.7 515.9,69.2 514.2,71.1 512.5,71.3 510.9,71.3 509.2,72.4 507.5,74.2 505.9,76.0 504.2,78.0 502.5,80.5 500.9,82.7 499.2,84.4 497.5,84.9 495.9,85.3 494.2,87.0 492.6,89.4 490.9,90.9 489.2,93.5 487.6,95.9 485.9,98.4 484.2,100.6 482.6,101.7 480.9,103.3 479.2,104.3 477.6,104.6 475.9,104.9 474.2,104.7 472.6,104.7 470.9,105.5 469.2,107.8 467.6,110.4 465.9,111.9 464.2,113.4 462.6,114.3 460.9,114.7 459.3,118.8 457.6,122.3 455.9,125.7 454.3,128.4 452.6,129.5 450.9,130.0 449.3,130.5 447.6,131.0 445.9,131.5 444.3,132.4 442.6,132.9 440.9,133.4 439.3,133.2 437.6,133.8 435.9,138.5 434.3,139.5 432.6,140.4 430.9,142.0 429.3,143.0 427.6,143.8 425.9,145.2 424.3,146.1 422.6,146.6 421.0,147.3 419.3,148.3 417.6,149.4 416.0,150.4 414.3,151.3 412.6,152.5 411.0,153.2 409.3,153.8 407.6,154.8 406.0,154.9 404.3,155.0 402.6,155.1 401.0,154.8 399.3,162.0 397.6,162.1 396.0,162.8 394.3,163.6 392.6,163.8 391.0,164.2 389.3,164.3 387.7,177.0 386.0,176.7 384.3,176.4 382.7,175.4 381.0,174.6 379.3,174.9 377.7,174.8 376.0,175.8 374.3,177.2 372.7,177.5 371.0,177.8 369.3,177.5 367.7,177.7 366.0,178.3 364.3,181.6 362.7,181.6 361.0,181.3 359.3,181.1 357.7,181.4 356.0,181.2 354.4,181.1 352.7,180.5 351.0,180.2 349.4,180.5 347.7,181.2 346.0,181.3 344.4,181.2 342.7,180.9 341.0,180.6 339.4,181.0 337.7,181.9 336.0,182.1 334.4,182.5 332.7,182.9 331.0,182.5 329.4,183.5 327.7,184.0 326.0,183.7 324.4,183.7 322.7,184.4 321.0,184.3 319.4,183.6 317.7,184.1 316.1,184.5 314.4,184.6 312.7,184.5 311.1,185.0 309.4,185.8 307.7,185.9 306.1,186.3 304.4,186.7 302.7,186.7 301.1,186.6 299.4,186.8 297.7,187.0 296.1,187.4 294.4,188.0 292.7,186.1 291.1,186.2 289.4,186.1 287.7,185.6 286.1,185.7 284.4,186.2 282.8,187.1 281.1,187.3 279.4,187.2 277.8,186.4 276.1,186.0 274.4,186.1 272.8,186.4 271.1,186.7 269.4,186.4 267.8,185.5 266.1,184.4 264.4,184.4 262.8,184.4 261.1,184.1 259.4,184.2 257.8,184.6 256.1,191.5 254.4,191.9 252.8,192.3 251.1,192.5 249.5,192.8 247.8,193.3 246.1,193.9 244.5,194.4 242.8,193.8 241.1,193.3 239.5,193.5 237.8,193.2 236.1,193.0 234.5,193.2 232.8,193.4 231.1,193.6 229.5,193.8 227.8,189.9 226.1,189.8 224.5,189.1 222.8,188.4 221.1,188.2 219.5,187.5 217.8,186.7 216.2,186.8 214.5,186.2 212.8,186.1 211.2,186.7 209.5,187.2 207.8,188.1 206.2,188.2 204.5,188.4 202.8,188.1 201.2,188.0 199.5,187.3 197.8,187.4 196.2,188.0 194.5,188.2 192.8,188.2 191.2,188.2 189.5,189.0 187.8,189.6 186.2,189.9 184.5,190.9 182.8,191.9 181.2,192.1 179.5,192.0 177.9,192.4 176.2,193.1 174.5,193.8 172.9,194.8 171.2,195.7 169.5,196.0 167.9,196.4 166.2,197.3 164.5,198.4 162.9,199.2 161.2,200.2 159.5,201.5 157.9,201.3 156.2,199.8 154.5,197.6 152.9,196.3 151.2,195.4 149.5,194.8 147.9,195.4 146.2,195.5 144.6,195.3 142.9,196.0 141.2,196.1 139.6,195.9 137.9,196.0 136.2,196.2 134.6,195.8 132.9,196.3 131.2,196.8 129.6,196.8 127.9,197.2 126.2,197.5 124.6,197.6 122.9,198.0 121.2,198.4 119.6,199.2 117.9,200.9 116.2,202.9 114.6,203.8 112.9,204.6 111.3,205.8 109.6,206.5 107.9,207.0 106.3,207.6 104.6,207.7 102.9,208.2 101.3,208.1 99.6,208.6 97.9,209.1 96.3,209.7 94.6,210.1 92.9,218.8 91.3,218.3 89.6,219.0 87.9,220.1 86.3,220.5 84.6,221.0 82.9,221.8 81.3,222.5 79.6,222.8 78.0,222.8 76.3,223.1 74.6,223.7 73.0,223.6 71.3,222.8 69.6,222.8 68.0,222.9 66.3,223.5 64.6,223.9 63.0,224.3 61.3,225.8Z" fill="#b9d8a0"/>
<rect x="61" y="532.2" width="658" height="2" fill="#77797c"/>
<text x="53.5" y="115.1" text-anchor="end">$200b</text><text x="53.5" y="220.2" text-anchor="end">$150b</text><text x="53.5" y="325.3" text-anchor="end">$100b</text><text x="53.5" y="430.4" text-anchor="end">$50b</text><text x="53.5" y="535.5" text-anchor="end">0</text>
<text x="61.3" y="550.2" text-anchor="middle">Jan 2025</text><text x="211.2" y="550.2" text-anchor="middle">Apr 2025</text><text x="362.7" y="550.2" text-anchor="middle">Jul 2025</text><text x="515.9" y="550.2" text-anchor="middle">Oct 2025</text><text x="669.1" y="550.2" text-anchor="middle">Jan 2026</text>
<rect x="0" y="0" width="860" height="1" fill="#e9e9ec"/><rect x="0" y="0" width="1" height="584" fill="#e9e9ec"/><rect x="859" y="0" width="1" height="584" fill="#ececef"/><rect x="0" y="582.4" width="860" height="1.6" fill="#ebebee"/>
<circle cx="17" cy="565" r="6" fill="#1b1b1f"/>
<line x1="11.8" y1="569.1" x2="23" y2="564.8" stroke="#fff" stroke-width="0.9"/>
</svg>
<div class="legend"><div class="li"><span class="lt s">All</span><i style="background:#57575b"></i></div><div class="li"><span class="lt" style="letter-spacing:0.39px">treasury_or_governance</span><i style="background:#b9d8a0"></i></div><div class="li"><span class="lt s">erc20_contract</span><i style="background:#e8c0c0"></i></div><div class="li"><span class="lt s">dex</span><i style="background:#d4e39c"></i></div><div class="li"><span class="lt s">lending</span><i style="background:#a9c6e8"></i></div><div class="li"><span class="lt s">bridge</span><i style="background:#f9a8a6"></i></div><div class="li"><span class="lt s">yield</span><i style="background:#a9dfd3"></i></div><div class="li"><span class="lt s">issuer</span><i style="background:#f4d283"></i></div><div class="li"><span class="lt" style="letter-spacing:0.58px">unidentified_smart_contract</span><i style="background:#c6b5e3"></i></div><div class="li"><span class="lt" style="letter-spacing:0.58px">unidentified_whale</span><i style="background:#fff5c2"></i></div><div class="li"><span class="lt s">unidentified</span><i style="background:#a5d8c6"></i></div><div class="li"><span class="lt s">cex</span><i style="background:#8db9da"></i></div></div>
<div class="foot">@dune</div>
</body></html>
